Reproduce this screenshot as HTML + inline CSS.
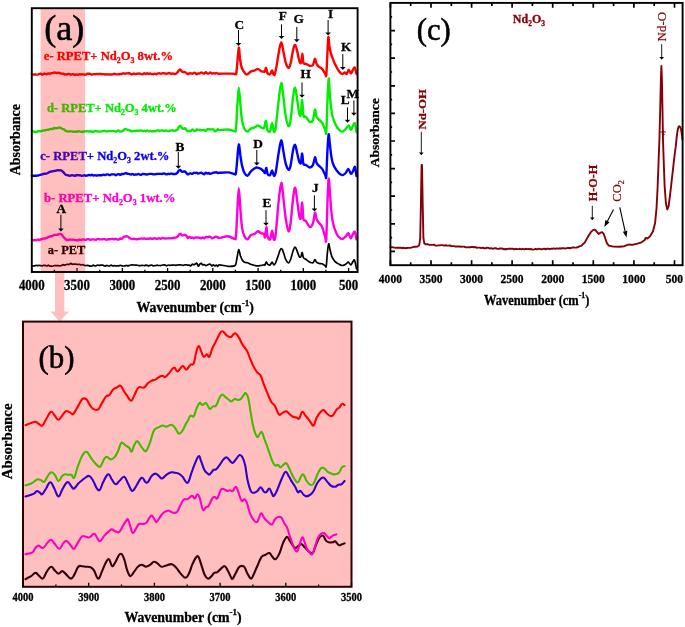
<!DOCTYPE html>
<html lang="en"><head><meta charset="utf-8"><title>FTIR spectra</title>
<style>
html,body{margin:0;padding:0;background:#fff;}
svg{display:block;font-family:"Liberation Serif","DejaVu Serif",serif;}
</style></head>
<body>
<svg width="685" height="627" viewBox="0 0 685 627">
<rect width="685" height="627" fill="#fff"/>
<path d="M55,272 L64.3,272 L64.3,311.5 L68.9,311.5 L59.7,321.5 L50.5,311.5 L55,311.5 Z" fill="#ffbfbf"/>
<path d="M31.8,266.1C32.0,266.1 32.8,266.0 33.3,266.0C33.8,265.9 34.3,265.9 34.8,265.8C35.3,265.7 35.8,265.3 36.3,265.3C36.8,265.2 37.3,265.6 37.8,265.6C38.3,265.6 38.8,265.3 39.3,265.3C39.8,265.3 40.3,265.6 40.8,265.7C41.3,265.8 41.8,265.8 42.3,265.8C42.8,265.7 43.3,265.4 43.8,265.3C44.3,265.3 44.8,265.3 45.3,265.4C45.8,265.5 46.3,266.1 46.8,266.0C47.3,266.0 47.8,265.1 48.3,265.1C48.8,265.1 49.3,265.9 49.8,266.0C50.3,266.2 50.8,266.1 51.3,266.1C51.8,266.1 52.3,266.3 52.8,266.2C53.3,266.1 53.8,265.6 54.3,265.5C54.8,265.4 55.3,265.6 55.8,265.6C56.3,265.7 56.8,265.6 57.3,265.6C57.8,265.6 58.3,265.6 58.8,265.6C59.3,265.7 59.8,265.9 60.3,265.9C60.8,265.9 61.3,265.6 61.8,265.4C62.3,265.2 62.8,264.8 63.3,264.7C63.8,264.7 64.3,265.2 64.8,265.2C65.3,265.1 65.8,264.6 66.3,264.5C66.8,264.3 67.3,264.4 67.8,264.4C68.3,264.4 68.8,264.5 69.3,264.3C69.8,264.2 70.3,263.4 70.8,263.3C71.3,263.3 71.8,264.1 72.3,264.2C72.8,264.4 73.3,264.2 73.8,264.2C74.3,264.2 74.8,264.1 75.3,264.1C75.8,264.1 76.3,264.3 76.8,264.4C77.3,264.4 77.8,264.5 78.3,264.5C78.8,264.5 79.3,264.3 79.8,264.4C80.3,264.5 80.8,265.0 81.3,265.0C81.8,265.1 82.3,264.6 82.8,264.6C83.3,264.7 83.8,265.2 84.3,265.3C84.8,265.5 85.3,265.6 85.8,265.6C86.3,265.6 86.8,265.4 87.3,265.4C87.8,265.4 88.3,265.5 88.8,265.6C89.3,265.7 89.8,266.0 90.3,266.1C90.8,266.2 91.3,266.2 91.8,266.0C92.3,265.9 92.8,265.1 93.3,265.1C93.8,265.1 94.3,265.8 94.8,265.9C95.3,266.0 95.8,265.9 96.3,265.7C96.8,265.6 97.3,265.1 97.8,265.0C98.3,265.0 98.8,265.4 99.3,265.4C99.8,265.4 100.3,265.3 100.8,265.2C101.3,265.2 101.8,265.0 102.3,265.0C102.8,265.1 103.3,265.4 103.8,265.6C104.3,265.8 104.8,266.1 105.3,266.1C105.8,266.0 106.3,265.3 106.8,265.3C107.3,265.3 107.8,265.9 108.3,266.0C108.8,266.1 109.3,265.9 109.8,265.8C110.3,265.6 110.8,265.1 111.3,265.1C111.8,265.1 112.3,265.9 112.8,266.0C113.3,266.1 113.8,265.6 114.3,265.6C114.8,265.7 115.3,266.0 115.8,266.0C116.3,266.1 116.8,265.8 117.3,265.8C117.8,265.7 118.3,265.9 118.8,265.8C119.3,265.7 119.8,265.3 120.3,265.3C120.8,265.3 121.3,265.8 121.8,265.9C122.3,266.0 122.8,266.0 123.3,266.0C123.8,266.0 124.3,266.0 124.8,265.9C125.3,265.8 125.8,265.4 126.3,265.4C126.8,265.4 127.3,265.8 127.8,265.8C128.3,265.8 128.8,265.6 129.3,265.5C129.8,265.3 130.3,265.1 130.8,265.0C131.3,264.9 131.8,264.9 132.3,264.9C132.8,264.9 133.3,264.9 133.8,265.0C134.3,265.0 134.8,265.1 135.3,265.1C135.8,265.1 136.3,265.0 136.8,265.1C137.3,265.1 137.8,265.4 138.3,265.5C138.8,265.6 139.3,265.7 139.8,265.7C140.3,265.7 140.8,265.6 141.3,265.5C141.8,265.5 142.3,265.3 142.8,265.4C143.3,265.4 143.8,265.7 144.3,265.6C144.8,265.6 145.3,265.3 145.8,265.2C146.3,265.2 146.8,265.3 147.3,265.4C147.8,265.5 148.3,265.8 148.8,265.8C149.3,265.7 149.8,265.4 150.3,265.3C150.8,265.2 151.3,265.0 151.8,265.1C152.3,265.2 152.8,265.8 153.3,265.9C153.8,266.0 154.3,265.8 154.8,265.7C155.3,265.6 155.8,265.3 156.3,265.3C156.8,265.2 157.3,265.2 157.8,265.3C158.3,265.3 158.8,265.4 159.3,265.5C159.8,265.5 160.3,265.6 160.8,265.5C161.3,265.5 161.8,265.2 162.3,265.1C162.8,265.0 163.3,264.8 163.8,264.8C164.3,264.8 164.8,264.9 165.3,265.1C165.8,265.2 166.3,265.8 166.8,265.8C167.3,265.7 167.8,265.0 168.3,265.0C168.8,264.9 169.3,265.3 169.8,265.4C170.3,265.4 170.8,265.1 171.3,265.0C171.8,265.0 172.3,265.1 172.8,265.1C173.3,265.0 173.8,265.0 174.3,265.0C174.8,265.0 175.3,265.3 175.8,265.3C176.3,265.3 176.8,265.1 177.3,265.0C177.8,264.9 178.3,264.8 178.8,264.8C179.3,264.8 179.8,264.9 180.3,264.9C180.8,264.9 181.3,264.9 181.8,265.0C182.3,265.1 182.8,265.4 183.3,265.4C183.8,265.3 184.3,264.9 184.8,264.8C185.3,264.8 185.8,264.7 186.3,264.8C186.8,264.9 187.3,265.2 187.8,265.2C188.3,265.3 188.8,265.0 189.3,265.1C189.8,265.2 190.3,266.0 190.8,265.8C191.3,265.7 191.8,264.4 192.3,264.2C192.8,264.1 193.3,264.8 193.8,264.8C194.3,264.7 194.8,264.3 195.3,264.0C195.8,263.8 196.3,262.8 196.8,263.2C197.3,263.5 197.8,266.0 198.3,266.1C198.8,266.3 199.3,264.6 199.8,264.1C200.3,263.7 200.8,263.2 201.3,263.4C201.8,263.6 202.3,264.9 202.8,265.0C203.3,265.2 203.8,264.4 204.3,264.5C204.8,264.6 205.3,265.6 205.8,265.6C206.3,265.7 206.8,265.2 207.3,265.0C207.8,264.8 208.3,264.5 208.8,264.4C209.3,264.3 209.8,264.0 210.3,264.2C210.8,264.5 211.3,265.8 211.8,265.9C212.3,266.0 212.8,264.8 213.3,264.8C213.8,264.8 214.3,265.9 214.8,266.0C215.3,266.1 215.8,265.2 216.3,265.2C216.8,265.3 217.3,266.4 217.8,266.3C218.3,266.3 217.6,264.8 219.3,264.8C221.0,264.8 225.7,266.1 228.2,266.3C230.7,266.5 233.0,266.3 234.3,265.9C235.6,265.5 235.4,265.5 235.9,263.8C236.5,262.1 236.9,258.0 237.4,255.7C237.8,253.3 238.3,249.5 238.8,249.5C239.3,249.5 239.9,254.0 240.4,255.7C241.0,257.4 241.4,258.7 242.1,259.7C242.8,260.8 243.6,261.7 244.5,262.2C245.4,262.7 246.6,262.5 247.6,262.8C248.6,263.1 249.5,263.8 250.7,264.2C251.8,264.7 253.6,265.2 254.7,265.5C255.9,265.7 256.8,265.9 257.8,265.9C258.8,265.9 259.9,265.6 260.9,265.5C261.9,265.3 263.3,265.0 263.9,264.9C264.6,264.8 264.6,265.4 265.0,264.9C265.4,264.3 265.9,261.9 266.4,261.8C266.8,261.7 267.0,263.7 267.6,264.2C268.2,264.8 269.3,265.2 270.1,264.9C270.8,264.5 271.5,262.2 272.1,262.2C272.7,262.2 273.2,264.8 273.8,264.9C274.3,265.0 274.8,264.3 275.6,262.8C276.3,261.3 277.5,257.7 278.2,255.7C279.0,253.6 279.4,251.7 279.9,250.5C280.4,249.4 280.9,248.6 281.3,248.5C281.8,248.4 282.1,249.1 282.5,249.9C282.9,250.8 283.2,252.0 283.8,253.6C284.3,255.2 285.0,258.2 285.8,259.7C286.6,261.3 287.7,262.8 288.5,262.8C289.2,262.8 289.7,261.8 290.5,259.7C291.3,257.7 292.4,252.7 293.2,250.5C293.9,248.4 294.5,246.9 295.2,247.1C295.9,247.2 296.6,250.0 297.3,251.6C297.9,253.2 298.7,255.8 299.3,256.7C299.9,257.5 300.5,257.4 300.9,256.7C301.4,256.0 301.7,252.4 302.2,252.6C302.6,252.8 302.8,256.6 303.4,257.7C304.0,258.8 304.7,258.6 305.8,259.3C306.9,260.1 308.7,261.6 309.9,262.2C311.1,262.8 312.1,263.2 313.0,262.8C313.8,262.4 314.5,259.8 315.0,259.7C315.6,259.6 315.8,261.6 316.5,262.2C317.1,262.8 318.2,263.1 319.1,263.4C320.1,263.7 321.2,263.4 322.2,263.8C323.2,264.2 324.6,265.5 325.3,265.9C325.9,266.2 325.9,268.3 326.3,265.9C326.6,263.5 327.1,255.2 327.5,251.6C327.9,247.9 328.3,244.1 328.7,243.8C329.1,243.5 329.5,247.7 330.0,249.5C330.4,251.3 330.8,253.3 331.2,254.6C331.6,256.0 331.9,256.7 332.4,257.7C333.0,258.7 333.6,259.8 334.4,260.8C335.3,261.7 336.5,262.7 337.5,263.4C338.5,264.1 339.7,264.5 340.6,264.9C341.4,265.2 341.8,265.6 342.6,265.5C343.5,265.4 344.7,264.8 345.7,264.2C346.6,263.7 347.5,262.1 348.3,262.2C349.2,262.3 350.0,264.9 350.8,264.9C351.5,264.8 352.2,262.6 352.8,261.8C353.5,261.0 353.9,259.0 354.5,260.2C355.1,261.3 356.2,267.5 356.5,268.9" fill="none" stroke="#000000" stroke-width="1.7" stroke-linejoin="round" stroke-linecap="round"/>
<path d="M31.8,240.1C32.0,240.1 32.8,240.2 33.3,240.2C33.8,240.2 34.3,240.0 34.8,240.0C35.3,240.0 35.8,240.4 36.3,240.3C36.8,240.2 37.3,239.5 37.8,239.5C38.3,239.4 38.8,240.1 39.3,240.1C39.8,240.0 40.3,239.4 40.8,239.3C41.3,239.1 41.8,239.2 42.3,239.0C42.8,238.9 43.3,238.6 43.8,238.5C44.3,238.4 44.8,238.5 45.3,238.4C45.8,238.3 46.3,238.1 46.8,237.9C47.3,237.7 47.8,237.3 48.3,237.1C48.8,236.9 49.3,236.6 49.8,236.5C50.3,236.3 50.8,236.3 51.3,236.2C51.8,236.1 52.3,236.0 52.8,235.8C53.3,235.6 53.8,235.1 54.3,234.9C54.8,234.8 55.3,234.9 55.8,234.9C56.3,234.9 56.8,234.9 57.3,234.8C57.8,234.7 58.3,234.3 58.8,234.1C59.3,234.0 59.8,233.8 60.3,233.9C60.8,234.0 61.3,234.2 61.8,234.7C62.3,235.2 62.8,236.2 63.3,236.8C63.8,237.4 64.3,237.8 64.8,238.3C65.3,238.8 65.8,239.3 66.3,239.6C66.8,239.9 67.3,240.0 67.8,240.0C68.3,240.0 68.8,239.7 69.3,239.6C69.8,239.5 70.3,239.6 70.8,239.6C71.3,239.6 71.8,239.7 72.3,239.7C72.8,239.7 73.3,239.5 73.8,239.6C74.3,239.6 74.8,240.0 75.3,240.1C75.8,240.2 76.3,240.2 76.8,240.2C77.3,240.2 77.8,240.3 78.3,240.2C78.8,240.1 79.3,239.6 79.8,239.5C80.3,239.5 80.8,240.1 81.3,240.1C81.8,240.1 82.3,239.6 82.8,239.5C83.3,239.5 83.8,239.6 84.3,239.6C84.8,239.7 85.3,240.0 85.8,239.9C86.3,239.8 86.8,239.4 87.3,239.2C87.8,239.1 88.3,239.1 88.8,239.2C89.3,239.3 89.8,239.9 90.3,239.9C90.8,240.0 91.3,239.5 91.8,239.4C92.3,239.3 92.8,239.4 93.3,239.4C93.8,239.5 94.3,239.6 94.8,239.6C95.3,239.7 95.8,239.8 96.3,239.7C96.8,239.6 97.3,239.0 97.8,239.0C98.3,238.9 98.8,239.2 99.3,239.3C99.8,239.4 100.3,239.3 100.8,239.4C101.3,239.4 101.8,239.4 102.3,239.4C102.8,239.3 103.3,239.1 103.8,239.1C104.3,239.1 104.8,239.3 105.3,239.4C105.8,239.6 106.3,239.8 106.8,239.8C107.3,239.7 107.8,239.3 108.3,239.2C108.8,239.1 109.3,239.4 109.8,239.3C110.3,239.3 110.8,238.9 111.3,238.9C111.8,238.8 112.3,238.9 112.8,239.0C113.3,239.1 113.8,239.4 114.3,239.4C114.8,239.3 115.3,238.8 115.8,238.8C116.3,238.8 116.8,239.4 117.3,239.5C117.8,239.6 118.3,239.7 118.8,239.5C119.3,239.3 119.8,238.6 120.3,238.5C120.8,238.4 121.3,239.0 121.8,238.8C122.3,238.6 122.8,237.6 123.3,237.3C123.8,236.9 124.3,236.8 124.8,236.6C125.3,236.5 125.8,236.3 126.3,236.3C126.8,236.2 127.3,236.2 127.8,236.5C128.3,236.7 128.8,237.5 129.3,237.9C129.8,238.2 130.3,238.4 130.8,238.6C131.3,238.8 131.8,239.1 132.3,239.1C132.8,239.1 133.3,238.6 133.8,238.6C134.3,238.6 134.8,239.0 135.3,239.1C135.8,239.2 136.3,239.3 136.8,239.3C137.3,239.3 137.8,239.0 138.3,239.0C138.8,238.9 139.3,238.9 139.8,238.8C140.3,238.7 140.8,238.4 141.3,238.4C141.8,238.3 142.3,238.7 142.8,238.7C143.3,238.7 143.8,238.5 144.3,238.5C144.8,238.6 145.3,238.8 145.8,238.9C146.3,238.9 146.8,238.8 147.3,238.8C147.8,238.8 148.3,238.8 148.8,238.7C149.3,238.6 149.8,238.3 150.3,238.3C150.8,238.3 151.3,238.6 151.8,238.7C152.3,238.8 152.8,238.8 153.3,238.7C153.8,238.6 154.3,238.2 154.8,238.2C155.3,238.2 155.8,238.8 156.3,238.9C156.8,238.9 157.3,238.7 157.8,238.6C158.3,238.5 158.8,238.0 159.3,238.1C159.8,238.1 160.3,238.8 160.8,238.8C161.3,238.8 161.8,238.1 162.3,238.0C162.8,237.9 163.3,238.1 163.8,238.2C164.3,238.3 164.8,238.5 165.3,238.6C165.8,238.6 166.3,238.4 166.8,238.4C167.3,238.4 167.8,238.3 168.3,238.3C168.8,238.3 169.3,238.4 169.8,238.4C170.3,238.4 170.8,238.3 171.3,238.2C171.8,238.1 172.3,238.1 172.8,238.0C173.3,238.0 173.8,237.9 174.3,237.8C174.8,237.7 175.3,237.6 175.8,237.5C176.3,237.3 176.8,237.4 177.3,236.9C177.8,236.5 178.3,235.3 178.8,234.8C179.3,234.2 179.8,233.6 180.3,233.7C180.8,233.7 181.3,234.9 181.8,235.2C182.3,235.5 182.8,235.5 183.3,235.4C183.8,235.3 184.3,234.6 184.8,234.7C185.3,234.7 185.8,235.2 186.3,235.7C186.8,236.3 187.3,237.9 187.8,238.1C188.3,238.3 188.8,237.0 189.3,236.9C189.8,236.9 190.3,237.8 190.8,237.9C191.3,238.0 191.8,237.3 192.3,237.4C192.8,237.4 193.3,238.4 193.8,238.4C194.3,238.4 194.8,237.7 195.3,237.5C195.8,237.4 196.3,237.5 196.8,237.5C197.3,237.5 197.8,237.5 198.3,237.6C198.8,237.6 199.3,237.7 199.8,237.8C200.3,237.9 200.8,238.3 201.3,238.3C201.8,238.2 202.3,237.4 202.8,237.4C203.3,237.4 203.8,238.4 204.3,238.4C204.8,238.3 205.3,237.1 205.8,236.9C206.3,236.7 206.8,237.2 207.3,237.2C207.8,237.1 208.3,236.9 208.8,236.8C209.3,236.7 209.8,236.6 210.3,236.8C210.8,237.0 211.3,237.9 211.8,238.1C212.3,238.3 212.8,238.2 213.3,238.0C213.8,237.8 214.3,237.0 214.8,236.9C215.3,236.7 215.8,236.8 216.3,236.8C216.8,236.9 217.3,237.1 217.8,237.3C218.3,237.4 217.6,238.1 219.3,237.9C221.0,237.7 225.7,236.2 228.2,236.3C230.7,236.5 233.0,238.8 234.3,238.8C235.6,238.8 235.4,241.1 235.9,236.3C236.5,231.5 236.9,217.7 237.4,209.7C237.8,201.7 238.3,188.3 238.8,188.3C239.3,188.3 239.9,203.1 240.4,209.7C241.0,216.4 241.4,223.7 242.1,228.1C242.8,232.6 243.6,234.4 244.5,236.3C245.4,238.2 246.6,239.5 247.6,239.4C248.6,239.2 249.5,236.2 250.7,235.3C251.8,234.4 253.6,234.5 254.7,233.9C255.9,233.2 256.8,231.3 257.8,231.2C258.8,231.1 259.9,232.8 260.9,233.2C261.9,233.7 263.3,233.2 263.9,233.9C264.6,234.5 264.6,238.5 265.0,237.3C265.4,236.2 265.9,227.3 266.4,227.1C266.8,226.9 267.0,234.3 267.6,236.3C268.2,238.4 269.3,240.3 270.1,239.4C270.8,238.4 271.5,230.6 272.1,230.6C272.7,230.6 273.2,238.6 273.8,239.4C274.3,240.2 274.8,240.9 275.6,235.3C276.3,229.7 277.5,213.1 278.2,205.7C279.0,198.2 279.4,194.1 279.9,190.3C280.4,186.5 280.9,182.9 281.3,182.8C281.8,182.6 282.1,186.2 282.5,189.3C282.9,192.4 283.2,196.6 283.8,201.6C284.3,206.5 285.0,214.0 285.8,218.9C286.6,223.9 287.7,230.4 288.5,231.2C289.2,232.1 289.7,229.7 290.5,224.0C291.3,218.4 292.4,203.5 293.2,197.5C293.9,191.4 294.5,187.0 295.2,187.7C295.9,188.4 296.6,196.9 297.3,201.6C297.9,206.3 298.7,213.1 299.3,215.9C299.9,218.6 300.5,220.1 300.9,217.9C301.4,215.7 301.7,202.4 302.2,202.6C302.6,202.8 302.8,215.9 303.4,218.9C304.0,222.0 304.7,219.6 305.8,221.0C306.9,222.3 308.7,226.8 309.9,227.1C311.1,227.5 312.1,225.4 313.0,223.0C313.8,220.6 314.5,213.5 315.0,212.8C315.6,212.1 315.8,217.2 316.5,218.9C317.1,220.6 318.2,221.7 319.1,223.0C320.1,224.4 321.2,224.7 322.2,227.1C323.2,229.5 324.6,235.3 325.3,237.3C325.9,239.4 325.9,245.3 326.3,239.4C326.6,233.4 327.1,211.7 327.5,201.6C327.9,191.5 328.3,180.0 328.7,178.7C329.1,177.3 329.5,188.2 330.0,193.4C330.4,198.6 330.8,205.3 331.2,209.7C331.6,214.2 331.9,216.9 332.4,220.0C333.0,223.0 333.6,225.6 334.4,228.1C335.3,230.7 336.5,233.6 337.5,235.3C338.5,237.0 339.7,237.8 340.6,238.4C341.4,238.9 341.8,239.1 342.6,238.8C343.5,238.4 344.7,237.2 345.7,236.3C346.6,235.4 347.5,232.9 348.3,233.2C349.2,233.6 350.0,238.2 350.8,238.4C351.5,238.5 352.2,235.4 352.8,234.3C353.5,233.2 354.3,231.0 354.9,231.8C355.5,232.7 356.2,238.1 356.5,239.4" fill="none" stroke="#ff00dc" stroke-width="2.4" stroke-linejoin="round" stroke-linecap="round"/>
<path d="M31.8,175.8C32.0,175.8 32.8,175.8 33.3,175.7C33.8,175.7 34.3,175.7 34.8,175.7C35.3,175.7 35.8,175.8 36.3,175.8C36.8,175.8 37.3,175.7 37.8,175.5C38.3,175.4 38.8,175.2 39.3,175.1C39.8,174.9 40.3,174.7 40.8,174.6C41.3,174.5 41.8,174.6 42.3,174.4C42.8,174.3 43.3,173.9 43.8,173.8C44.3,173.7 44.8,173.9 45.3,173.8C45.8,173.8 46.3,173.7 46.8,173.5C47.3,173.3 47.8,173.0 48.3,172.7C48.8,172.4 49.3,172.1 49.8,171.9C50.3,171.7 50.8,171.6 51.3,171.5C51.8,171.4 52.3,171.3 52.8,171.2C53.3,171.1 53.8,171.1 54.3,171.0C54.8,170.9 55.3,170.9 55.8,170.8C56.3,170.7 56.8,170.2 57.3,170.1C57.8,170.1 58.3,170.4 58.8,170.4C59.3,170.4 59.8,170.1 60.3,170.2C60.8,170.2 61.3,170.4 61.8,170.8C62.3,171.1 62.8,171.7 63.3,172.2C63.8,172.7 64.3,173.3 64.8,173.8C65.3,174.3 65.8,174.8 66.3,175.0C66.8,175.2 67.3,175.1 67.8,175.2C68.3,175.3 68.8,175.6 69.3,175.7C69.8,175.7 70.3,175.6 70.8,175.5C71.3,175.4 71.8,175.2 72.3,175.3C72.8,175.3 73.3,175.5 73.8,175.5C74.3,175.6 74.8,175.7 75.3,175.7C75.8,175.6 76.3,175.1 76.8,175.0C77.3,175.0 77.8,175.3 78.3,175.3C78.8,175.4 79.3,175.2 79.8,175.3C80.3,175.4 80.8,175.7 81.3,175.7C81.8,175.8 82.3,175.9 82.8,175.8C83.3,175.7 83.8,175.2 84.3,175.2C84.8,175.2 85.3,175.6 85.8,175.7C86.3,175.7 86.8,175.7 87.3,175.5C87.8,175.4 88.3,175.1 88.8,175.0C89.3,174.9 89.8,175.2 90.3,175.2C90.8,175.1 91.3,174.8 91.8,174.8C92.3,174.9 92.8,175.4 93.3,175.5C93.8,175.5 94.3,175.3 94.8,175.3C95.3,175.3 95.8,175.5 96.3,175.5C96.8,175.5 97.3,175.4 97.8,175.4C98.3,175.3 98.8,175.2 99.3,175.2C99.8,175.2 100.3,175.3 100.8,175.3C101.3,175.2 101.8,175.2 102.3,175.1C102.8,175.0 103.3,174.6 103.8,174.6C104.3,174.6 104.8,175.1 105.3,175.0C105.8,175.0 106.3,174.5 106.8,174.4C107.3,174.3 107.8,174.4 108.3,174.5C108.8,174.7 109.3,175.2 109.8,175.1C110.3,175.1 110.8,174.5 111.3,174.4C111.8,174.3 112.3,174.4 112.8,174.4C113.3,174.4 113.8,174.3 114.3,174.4C114.8,174.5 115.3,175.1 115.8,175.2C116.3,175.2 116.8,174.6 117.3,174.4C117.8,174.3 118.3,174.1 118.8,174.2C119.3,174.3 119.8,175.0 120.3,174.9C120.8,174.9 121.3,174.0 121.8,173.9C122.3,173.8 122.8,174.2 123.3,174.1C123.8,174.0 124.3,173.5 124.8,173.4C125.3,173.2 125.8,173.3 126.3,173.3C126.8,173.4 127.3,173.7 127.8,173.8C128.3,173.9 128.8,173.8 129.3,174.0C129.8,174.1 130.3,174.6 130.8,174.6C131.3,174.6 131.8,173.9 132.3,174.0C132.8,174.0 133.3,174.6 133.8,174.7C134.3,174.8 134.8,174.5 135.3,174.5C135.8,174.4 136.3,174.7 136.8,174.6C137.3,174.6 137.8,174.0 138.3,174.0C138.8,174.0 139.3,174.5 139.8,174.6C140.3,174.7 140.8,174.9 141.3,174.8C141.8,174.6 142.3,174.0 142.8,173.9C143.3,173.8 143.8,174.0 144.3,174.1C144.8,174.2 145.3,174.3 145.8,174.3C146.3,174.4 146.8,174.6 147.3,174.6C147.8,174.5 148.3,174.1 148.8,174.0C149.3,173.8 149.8,173.9 150.3,173.9C150.8,173.9 151.3,173.8 151.8,173.9C152.3,174.0 152.8,174.2 153.3,174.3C153.8,174.3 154.3,174.4 154.8,174.4C155.3,174.3 155.8,174.0 156.3,174.0C156.8,173.9 157.3,173.9 157.8,173.9C158.3,173.9 158.8,173.9 159.3,173.9C159.8,173.9 160.3,173.9 160.8,173.9C161.3,173.9 161.8,174.0 162.3,173.9C162.8,173.8 163.3,173.5 163.8,173.5C164.3,173.5 164.8,173.8 165.3,173.9C165.8,174.1 166.3,174.4 166.8,174.4C167.3,174.4 167.8,173.8 168.3,173.8C168.8,173.7 169.3,174.2 169.8,174.1C170.3,174.1 170.8,173.5 171.3,173.5C171.8,173.5 172.3,173.9 172.8,174.0C173.3,174.1 173.8,174.1 174.3,174.0C174.8,174.0 175.3,174.0 175.8,173.8C176.3,173.6 176.8,173.4 177.3,172.9C177.8,172.3 178.3,171.2 178.8,170.7C179.3,170.2 179.8,169.7 180.3,169.9C180.8,170.0 181.3,171.4 181.8,171.7C182.3,172.0 182.8,171.6 183.3,171.6C183.8,171.5 184.3,171.2 184.8,171.4C185.3,171.6 185.8,172.5 186.3,173.0C186.8,173.5 187.3,174.2 187.8,174.3C188.3,174.4 188.8,173.7 189.3,173.6C189.8,173.4 190.3,173.3 190.8,173.4C191.3,173.4 191.8,174.0 192.3,173.9C192.8,173.8 193.3,173.0 193.8,172.8C194.3,172.7 194.8,173.0 195.3,173.0C195.8,173.0 196.3,172.7 196.8,172.8C197.3,172.9 197.8,173.5 198.3,173.5C198.8,173.6 199.3,173.1 199.8,173.0C200.3,172.8 200.8,172.7 201.3,172.8C201.8,172.9 202.3,173.4 202.8,173.7C203.3,173.9 203.8,174.3 204.3,174.2C204.8,174.0 205.3,172.9 205.8,172.8C206.3,172.7 206.8,173.6 207.3,173.6C207.8,173.7 208.3,173.0 208.8,173.0C209.3,173.1 209.8,173.8 210.3,173.9C210.8,173.9 211.3,173.5 211.8,173.3C212.3,173.1 212.8,172.8 213.3,172.6C213.8,172.5 214.3,172.6 214.8,172.5C215.3,172.4 215.8,172.0 216.3,172.1C216.8,172.2 217.3,172.9 217.8,173.0C218.3,173.1 217.6,172.9 219.3,172.8C221.0,172.7 225.7,172.2 228.2,172.4C230.7,172.6 233.0,173.9 234.3,174.0C235.6,174.2 235.4,175.8 235.9,173.0C236.5,170.3 236.9,162.5 237.4,157.7C237.8,152.9 238.3,144.8 238.8,144.4C239.3,144.1 239.9,152.1 240.4,155.7C241.0,159.2 241.4,163.0 242.1,165.9C242.8,168.8 243.6,171.4 244.5,173.0C245.4,174.7 246.6,175.9 247.6,175.7C248.6,175.4 249.6,172.7 250.7,171.6C251.7,170.5 252.7,169.6 253.7,168.9C254.7,168.3 255.6,167.5 256.8,167.5C258.0,167.5 259.7,168.3 260.9,168.9C262.1,169.6 263.3,170.9 263.9,171.6C264.6,172.3 264.6,173.6 265.0,173.0C265.4,172.4 265.9,167.7 266.4,167.9C266.8,168.1 267.0,172.9 267.6,174.0C268.2,175.2 269.3,175.7 270.1,175.1C270.8,174.5 271.5,170.3 272.1,170.4C272.7,170.5 273.2,175.2 273.8,175.7C274.3,176.1 274.8,176.4 275.6,173.0C276.3,169.7 277.5,160.3 278.2,155.7C279.0,151.1 279.4,148.0 279.9,145.4C280.4,142.9 280.9,140.3 281.3,140.3C281.8,140.3 282.1,143.2 282.5,145.4C282.9,147.7 283.2,150.5 283.8,153.6C284.3,156.7 285.0,161.2 285.8,163.8C286.6,166.5 287.7,169.2 288.5,169.6C289.2,169.9 289.7,169.2 290.5,165.9C291.3,162.5 292.4,153.0 293.2,149.5C293.9,146.1 294.5,144.3 295.2,145.0C295.9,145.7 296.6,150.8 297.3,153.6C297.9,156.4 298.7,160.3 299.3,161.8C299.9,163.3 300.5,164.2 300.9,162.8C301.4,161.4 301.7,153.4 302.2,153.6C302.6,153.8 302.8,162.0 303.4,163.8C304.0,165.7 304.7,164.2 305.8,164.9C306.9,165.5 308.7,167.5 309.9,167.5C311.1,167.5 312.1,166.6 313.0,164.9C313.8,163.1 314.5,157.6 315.0,157.3C315.6,157.0 315.8,161.4 316.5,162.8C317.1,164.2 318.2,164.9 319.1,165.9C320.1,166.9 321.2,167.4 322.2,168.9C323.2,170.5 324.6,173.9 325.3,175.1C325.9,176.3 325.9,180.4 326.3,176.1C326.6,171.8 327.1,156.5 327.5,149.5C327.9,142.5 328.3,134.9 328.7,134.2C329.1,133.5 329.5,141.9 330.0,145.4C330.4,149.0 330.8,152.9 331.2,155.7C331.6,158.4 331.9,159.9 332.4,161.8C333.0,163.7 333.6,165.3 334.4,166.9C335.3,168.5 336.5,170.3 337.5,171.6C338.5,172.9 339.7,173.9 340.6,174.5C341.4,175.0 341.8,175.3 342.6,175.1C343.5,174.8 344.7,174.0 345.7,173.0C346.6,172.0 347.5,168.8 348.3,168.9C349.2,169.0 350.0,173.2 350.8,173.6C351.5,174.1 352.2,172.7 352.8,171.6C353.5,170.5 354.3,166.1 354.9,166.9C355.5,167.6 356.2,174.6 356.5,176.1" fill="none" stroke="#0000ff" stroke-width="2.4" stroke-linejoin="round" stroke-linecap="round"/>
<path d="M31.8,131.4C32.0,131.4 32.8,131.3 33.3,131.4C33.8,131.5 34.3,131.8 34.8,131.9C35.3,132.0 35.8,132.2 36.3,132.1C36.8,132.0 37.3,131.4 37.8,131.3C38.3,131.1 38.8,131.3 39.3,131.3C39.8,131.3 40.3,131.3 40.8,131.2C41.3,131.2 41.8,130.9 42.3,130.7C42.8,130.6 43.3,130.6 43.8,130.5C44.3,130.4 44.8,130.3 45.3,130.2C45.8,130.1 46.3,130.0 46.8,129.9C47.3,129.9 47.8,129.9 48.3,129.8C48.8,129.7 49.3,129.3 49.8,129.2C50.3,129.0 50.8,128.9 51.3,128.9C51.8,128.9 52.3,129.1 52.8,129.0C53.3,128.8 53.8,128.0 54.3,127.9C54.8,127.8 55.3,128.2 55.8,128.2C56.3,128.3 56.8,128.3 57.3,128.2C57.8,128.1 58.3,127.8 58.8,127.7C59.3,127.6 59.8,127.4 60.3,127.6C60.8,127.7 61.3,128.4 61.8,128.7C62.3,128.9 62.8,128.9 63.3,129.1C63.8,129.4 64.3,129.8 64.8,130.1C65.3,130.4 65.8,130.8 66.3,131.0C66.8,131.3 67.3,131.6 67.8,131.6C68.3,131.7 68.8,131.2 69.3,131.2C69.8,131.1 70.3,131.4 70.8,131.4C71.3,131.5 71.8,131.3 72.3,131.4C72.8,131.5 73.3,131.9 73.8,131.9C74.3,131.9 74.8,131.5 75.3,131.5C75.8,131.5 76.3,132.0 76.8,131.9C77.3,131.9 77.8,131.3 78.3,131.2C78.8,131.1 79.3,131.3 79.8,131.4C80.3,131.4 80.8,131.6 81.3,131.7C81.8,131.7 82.3,131.9 82.8,131.9C83.3,131.8 83.8,131.5 84.3,131.4C84.8,131.3 85.3,131.2 85.8,131.2C86.3,131.1 86.8,131.0 87.3,131.1C87.8,131.1 88.3,131.4 88.8,131.5C89.3,131.5 89.8,131.1 90.3,131.1C90.8,131.1 91.3,131.6 91.8,131.7C92.3,131.8 92.8,131.8 93.3,131.7C93.8,131.6 94.3,131.1 94.8,131.0C95.3,130.9 95.8,131.0 96.3,131.1C96.8,131.2 97.3,131.6 97.8,131.6C98.3,131.7 98.8,131.5 99.3,131.5C99.8,131.5 100.3,131.7 100.8,131.6C101.3,131.6 101.8,131.3 102.3,131.1C102.8,131.0 103.3,130.9 103.8,130.9C104.3,130.9 104.8,130.9 105.3,131.0C105.8,131.2 106.3,131.5 106.8,131.5C107.3,131.5 107.8,131.1 108.3,131.0C108.8,130.9 109.3,131.0 109.8,131.1C110.3,131.1 110.8,131.1 111.3,131.1C111.8,131.1 112.3,131.1 112.8,131.1C113.3,131.1 113.8,131.0 114.3,131.1C114.8,131.2 115.3,131.6 115.8,131.6C116.3,131.5 116.8,131.0 117.3,130.8C117.8,130.6 118.3,130.5 118.8,130.6C119.3,130.7 119.8,131.4 120.3,131.5C120.8,131.6 121.3,131.3 121.8,131.2C122.3,131.0 122.8,130.9 123.3,130.6C123.8,130.2 124.3,129.3 124.8,129.1C125.3,128.9 125.8,129.2 126.3,129.3C126.8,129.5 127.3,129.8 127.8,129.9C128.3,130.1 128.8,129.9 129.3,130.1C129.8,130.3 130.3,130.9 130.8,131.1C131.3,131.3 131.8,131.3 132.3,131.3C132.8,131.3 133.3,131.2 133.8,131.1C134.3,131.1 134.8,131.0 135.3,131.0C135.8,130.9 136.3,130.8 136.8,130.7C137.3,130.7 137.8,130.8 138.3,130.8C138.8,130.8 139.3,130.7 139.8,130.6C140.3,130.6 140.8,130.4 141.3,130.5C141.8,130.5 142.3,130.9 142.8,131.0C143.3,131.0 143.8,130.6 144.3,130.7C144.8,130.7 145.3,131.2 145.8,131.2C146.3,131.1 146.8,130.4 147.3,130.4C147.8,130.4 148.3,131.1 148.8,131.2C149.3,131.3 149.8,131.0 150.3,131.0C150.8,131.0 151.3,131.2 151.8,131.2C152.3,131.2 152.8,131.2 153.3,131.2C153.8,131.2 154.3,131.2 154.8,131.2C155.3,131.1 155.8,131.0 156.3,130.8C156.8,130.7 157.3,130.2 157.8,130.2C158.3,130.3 158.8,130.9 159.3,131.0C159.8,131.0 160.3,130.4 160.8,130.4C161.3,130.3 161.8,130.4 162.3,130.5C162.8,130.6 163.3,130.8 163.8,130.8C164.3,130.9 164.8,130.7 165.3,130.7C165.8,130.6 166.3,130.5 166.8,130.6C167.3,130.6 167.8,131.0 168.3,131.1C168.8,131.1 169.3,130.8 169.8,130.7C170.3,130.6 170.8,130.5 171.3,130.4C171.8,130.4 172.3,130.2 172.8,130.3C173.3,130.4 173.8,130.9 174.3,130.9C174.8,130.9 175.3,130.6 175.8,130.4C176.3,130.2 176.8,130.4 177.3,129.8C177.8,129.3 178.3,127.7 178.8,127.0C179.3,126.3 179.8,125.6 180.3,125.8C180.8,125.9 181.3,127.4 181.8,127.9C182.3,128.4 182.8,128.9 183.3,128.9C183.8,129.0 184.3,128.0 184.8,128.1C185.3,128.3 185.8,129.3 186.3,129.8C186.8,130.3 187.3,130.9 187.8,131.1C188.3,131.3 188.8,131.0 189.3,131.0C189.8,131.0 190.3,131.3 190.8,131.0C191.3,130.8 191.8,129.5 192.3,129.4C192.8,129.3 193.3,130.3 193.8,130.6C194.3,130.9 194.8,131.3 195.3,131.1C195.8,130.9 196.3,129.6 196.8,129.4C197.3,129.2 197.8,129.8 198.3,129.9C198.8,129.9 199.3,129.8 199.8,129.8C200.3,129.9 200.8,130.3 201.3,130.3C201.8,130.4 202.3,130.1 202.8,130.1C203.3,130.1 203.8,130.1 204.3,130.2C204.8,130.3 205.3,131.0 205.8,130.8C206.3,130.6 206.8,129.5 207.3,129.2C207.8,129.0 208.3,129.3 208.8,129.3C209.3,129.4 209.8,129.4 210.3,129.5C210.8,129.5 211.3,129.5 211.8,129.4C212.3,129.4 212.8,129.0 213.3,129.3C213.8,129.6 214.3,130.8 214.8,131.1C215.3,131.4 215.8,131.1 216.3,130.8C216.8,130.5 217.3,129.4 217.8,129.3C218.3,129.2 217.6,130.1 219.3,130.1C221.0,130.1 225.7,129.3 228.2,129.5C230.7,129.6 233.0,131.2 234.3,131.1C235.6,131.0 235.4,133.5 235.9,129.0C236.5,124.6 236.9,111.4 237.4,104.5C237.8,97.6 238.3,87.8 238.8,87.8C239.3,87.8 239.9,99.0 240.4,104.5C241.0,110.0 241.4,116.8 242.1,120.9C242.8,125.0 243.6,127.3 244.5,129.0C245.4,130.8 246.6,131.6 247.6,131.5C248.6,131.4 249.5,129.3 250.7,128.6C251.8,128.0 253.6,128.0 254.7,127.4C255.9,126.9 256.8,125.4 257.8,125.4C258.8,125.4 259.9,127.0 260.9,127.4C261.9,127.9 263.1,129.1 263.9,128.0C264.8,126.9 265.4,120.5 266.0,120.9C266.6,121.2 266.7,128.4 267.4,130.1C268.1,131.8 269.3,132.3 270.1,131.1C270.9,129.9 271.5,122.9 272.1,122.9C272.7,123.0 273.2,130.7 273.8,131.5C274.3,132.4 274.8,132.5 275.6,128.0C276.3,123.5 277.5,110.8 278.2,104.5C279.0,98.2 279.4,93.8 279.9,90.2C280.4,86.6 280.9,83.2 281.3,83.1C281.8,82.9 282.1,86.3 282.5,89.2C282.9,92.1 283.2,95.8 283.8,100.4C284.3,105.0 285.0,112.5 285.8,116.8C286.6,121.0 287.7,125.3 288.5,126.0C289.2,126.7 289.7,125.8 290.5,120.9C291.3,115.9 292.4,101.9 293.2,96.3C293.9,90.8 294.5,87.1 295.2,87.8C295.9,88.4 296.6,96.1 297.3,100.4C297.9,104.8 298.7,111.3 299.3,113.7C299.9,116.1 300.3,117.0 300.7,114.7C301.2,112.5 301.7,99.9 302.2,100.0C302.6,100.2 302.8,113.0 303.4,115.8C304.0,118.6 304.7,115.8 305.8,116.8C306.9,117.8 308.7,121.4 309.9,121.9C311.1,122.4 312.1,121.9 313.0,119.9C313.8,117.8 314.5,110.1 315.0,109.6C315.6,109.1 315.8,115.1 316.5,116.8C317.1,118.5 318.2,118.8 319.1,119.9C320.1,120.9 321.2,121.2 322.2,122.9C323.2,124.6 324.6,128.5 325.3,130.1C325.9,131.6 325.9,137.1 326.3,132.1C326.6,127.2 327.1,109.4 327.5,100.4C327.9,91.5 328.3,79.3 328.7,78.6C329.1,77.9 329.5,91.3 330.0,96.3C330.4,101.4 330.8,105.4 331.2,108.6C331.6,111.8 331.9,113.6 332.4,115.8C333.0,118.0 333.6,119.9 334.4,121.9C335.3,123.9 336.5,126.5 337.5,128.0C338.5,129.6 339.7,130.5 340.6,131.1C341.4,131.7 341.8,131.8 342.6,131.5C343.5,131.2 344.7,130.1 345.7,129.0C346.7,128.0 347.9,125.2 348.8,125.4C349.6,125.5 350.1,130.0 350.8,130.1C351.5,130.2 352.2,127.1 352.8,126.0C353.5,124.9 354.3,122.3 354.9,123.3C355.5,124.3 356.2,130.7 356.5,132.1" fill="none" stroke="#00ee00" stroke-width="2.4" stroke-linejoin="round" stroke-linecap="round"/>
<path d="M31.8,74.3C32.0,74.4 32.8,74.6 33.3,74.6C33.8,74.6 34.3,74.4 34.8,74.4C35.3,74.4 35.8,74.6 36.3,74.6C36.8,74.6 37.3,74.7 37.8,74.6C38.3,74.5 38.8,74.1 39.3,74.0C39.8,73.8 40.3,73.7 40.8,73.8C41.3,73.9 41.8,74.5 42.3,74.5C42.8,74.5 43.3,74.0 43.8,73.8C44.3,73.7 44.8,73.6 45.3,73.6C45.8,73.7 46.3,74.3 46.8,74.2C47.3,74.2 47.8,73.6 48.3,73.5C48.8,73.4 49.3,73.7 49.8,73.7C50.3,73.6 50.8,73.2 51.3,73.1C51.8,73.0 52.3,73.2 52.8,73.1C53.3,73.0 53.8,72.5 54.3,72.4C54.8,72.4 55.3,72.7 55.8,72.8C56.3,72.9 56.8,73.0 57.3,73.0C57.8,73.0 58.3,72.6 58.8,72.7C59.3,72.8 59.8,73.1 60.3,73.3C60.8,73.5 61.3,73.8 61.8,73.8C62.3,73.9 62.8,73.5 63.3,73.6C63.8,73.7 64.3,74.4 64.8,74.5C65.3,74.6 65.8,74.5 66.3,74.4C66.8,74.3 67.3,74.2 67.8,74.1C68.3,74.0 68.8,73.8 69.3,73.9C69.8,73.9 70.3,74.6 70.8,74.7C71.3,74.7 71.8,74.3 72.3,74.3C72.8,74.2 73.3,74.4 73.8,74.5C74.3,74.6 74.8,74.7 75.3,74.7C75.8,74.7 76.3,74.5 76.8,74.5C77.3,74.5 77.8,74.7 78.3,74.7C78.8,74.6 79.3,74.2 79.8,74.1C80.3,74.1 80.8,74.5 81.3,74.5C81.8,74.5 82.3,74.1 82.8,74.2C83.3,74.2 83.8,74.6 84.3,74.6C84.8,74.7 85.3,74.7 85.8,74.6C86.3,74.4 86.8,73.9 87.3,73.8C87.8,73.7 88.3,73.8 88.8,73.8C89.3,73.8 89.8,73.7 90.3,73.9C90.8,74.0 91.3,74.6 91.8,74.6C92.3,74.7 92.8,74.1 93.3,74.1C93.8,74.0 94.3,74.3 94.8,74.3C95.3,74.2 95.8,73.9 96.3,73.9C96.8,73.9 97.3,74.1 97.8,74.1C98.3,74.1 98.8,74.0 99.3,74.0C99.8,74.0 100.3,73.9 100.8,73.9C101.3,74.0 101.8,74.1 102.3,74.2C102.8,74.2 103.3,74.1 103.8,74.1C104.3,74.2 104.8,74.4 105.3,74.5C105.8,74.5 106.3,74.2 106.8,74.2C107.3,74.2 107.8,74.4 108.3,74.5C108.8,74.5 109.3,74.4 109.8,74.4C110.3,74.4 110.8,74.5 111.3,74.5C111.8,74.5 112.3,74.3 112.8,74.2C113.3,74.0 113.8,73.6 114.3,73.6C114.8,73.7 115.3,74.2 115.8,74.3C116.3,74.5 116.8,74.4 117.3,74.4C117.8,74.4 118.3,74.4 118.8,74.3C119.3,74.3 119.8,74.0 120.3,73.9C120.8,73.9 121.3,74.1 121.8,73.9C122.3,73.8 122.8,73.3 123.3,73.3C123.8,73.2 124.3,73.7 124.8,73.7C125.3,73.7 125.8,73.5 126.3,73.4C126.8,73.3 127.3,73.2 127.8,73.2C128.3,73.1 128.8,73.0 129.3,73.1C129.8,73.3 130.3,73.9 130.8,74.1C131.3,74.3 131.8,74.4 132.3,74.3C132.8,74.2 133.3,73.4 133.8,73.4C134.3,73.4 134.8,74.1 135.3,74.1C135.8,74.2 136.3,73.8 136.8,73.7C137.3,73.6 137.8,73.5 138.3,73.5C138.8,73.4 139.3,73.5 139.8,73.6C140.3,73.7 140.8,74.0 141.3,74.1C141.8,74.1 142.3,74.3 142.8,74.1C143.3,74.0 143.8,73.4 144.3,73.3C144.8,73.3 145.3,73.9 145.8,73.9C146.3,73.9 146.8,73.3 147.3,73.3C147.8,73.3 148.3,73.9 148.8,73.9C149.3,74.0 149.8,73.5 150.3,73.5C150.8,73.6 151.3,74.0 151.8,74.1C152.3,74.2 152.8,74.2 153.3,74.2C153.8,74.1 154.3,73.7 154.8,73.7C155.3,73.7 155.8,74.2 156.3,74.2C156.8,74.1 157.3,73.6 157.8,73.5C158.3,73.3 158.8,73.2 159.3,73.2C159.8,73.3 160.3,73.8 160.8,73.7C161.3,73.7 161.8,73.2 162.3,73.2C162.8,73.1 163.3,73.3 163.8,73.3C164.3,73.4 164.8,73.4 165.3,73.5C165.8,73.6 166.3,73.8 166.8,73.7C167.3,73.7 167.8,73.3 168.3,73.2C168.8,73.1 169.3,73.0 169.8,73.1C170.3,73.2 170.8,73.9 171.3,73.9C171.8,74.0 172.3,73.4 172.8,73.4C173.3,73.4 173.8,73.9 174.3,74.0C174.8,74.1 175.3,74.1 175.8,73.8C176.3,73.6 176.8,73.1 177.3,72.5C177.8,72.0 178.3,71.0 178.8,70.5C179.3,70.0 179.8,69.4 180.3,69.6C180.8,69.7 181.3,70.9 181.8,71.3C182.3,71.8 182.8,72.0 183.3,72.1C183.8,72.2 184.3,71.9 184.8,72.0C185.3,72.2 185.8,72.5 186.3,72.9C186.8,73.3 187.3,74.1 187.8,74.2C188.3,74.3 188.8,73.6 189.3,73.4C189.8,73.3 190.3,73.2 190.8,73.3C191.3,73.3 191.8,73.9 192.3,73.8C192.8,73.8 193.3,73.0 193.8,72.9C194.3,72.7 194.8,72.7 195.3,73.0C195.8,73.2 196.3,74.3 196.8,74.3C197.3,74.4 197.8,73.6 198.3,73.4C198.8,73.3 199.3,73.6 199.8,73.4C200.3,73.3 200.8,72.4 201.3,72.4C201.8,72.3 202.3,73.0 202.8,73.2C203.3,73.3 203.8,73.6 204.3,73.5C204.8,73.3 205.3,72.3 205.8,72.3C206.3,72.4 206.8,73.3 207.3,73.5C207.8,73.7 208.3,73.7 208.8,73.5C209.3,73.4 209.8,72.4 210.3,72.4C210.8,72.4 211.3,73.4 211.8,73.5C212.3,73.6 212.8,73.2 213.3,73.2C213.8,73.2 214.3,73.6 214.8,73.6C215.3,73.6 215.8,72.9 216.3,72.9C216.8,72.9 217.3,73.5 217.8,73.6C218.3,73.8 217.9,73.7 219.3,73.7C220.7,73.7 224.0,73.6 226.1,73.6C228.3,73.6 230.7,73.6 232.3,73.6C233.8,73.7 234.6,74.2 235.3,74.0C236.0,73.9 236.0,75.4 236.3,73.0C236.7,70.6 237.2,64.0 237.6,59.7C238.0,55.5 238.4,47.7 238.8,47.5C239.2,47.3 239.6,55.5 240.0,58.7C240.5,62.0 240.9,64.9 241.5,66.9C242.0,68.9 242.7,69.7 243.5,71.0C244.4,72.2 245.4,74.4 246.6,74.5C247.8,74.6 249.3,72.3 250.7,71.6C252.0,70.9 253.6,70.8 254.7,70.4C255.9,69.9 256.8,68.8 257.8,68.9C258.8,69.0 259.8,70.5 260.9,71.0C262.0,71.4 263.7,72.1 264.6,71.6C265.4,71.1 265.5,67.7 266.0,67.9C266.5,68.2 266.7,72.0 267.4,73.0C268.1,74.0 269.3,74.5 270.1,74.0C270.9,73.6 271.5,70.3 272.1,70.4C272.7,70.4 273.0,74.0 273.5,74.5C274.1,74.9 274.4,76.2 275.2,73.0C276.0,69.9 277.5,60.1 278.2,55.7C279.0,51.2 279.4,48.7 279.9,46.5C280.4,44.2 280.9,42.4 281.3,42.4C281.8,42.4 282.1,44.6 282.5,46.5C282.9,48.3 283.2,50.9 283.8,53.6C284.3,56.3 285.0,60.4 285.8,62.8C286.6,65.2 287.7,67.7 288.5,67.9C289.2,68.1 289.7,66.9 290.5,63.8C291.3,60.8 292.4,52.7 293.2,49.5C293.9,46.4 294.5,44.7 295.2,45.0C295.9,45.4 296.6,48.9 297.3,51.6C297.9,54.2 298.6,58.9 299.3,60.8C299.9,62.6 300.6,64.0 301.1,62.8C301.6,61.6 302.0,53.6 302.4,53.6C302.7,53.6 302.8,61.1 303.4,62.8C304.0,64.5 304.7,63.3 305.8,63.8C306.9,64.3 308.7,65.7 309.9,65.9C311.1,66.0 312.1,66.0 313.0,64.9C313.8,63.7 314.5,58.9 315.0,58.7C315.6,58.6 315.8,62.5 316.5,63.8C317.1,65.2 318.2,66.0 319.1,66.9C320.1,67.7 321.2,67.7 322.2,68.9C323.2,70.1 324.6,73.0 325.3,74.0C325.9,75.1 325.9,78.1 326.3,75.1C326.6,72.0 327.0,62.0 327.3,55.7C327.6,49.4 328.0,39.0 328.3,37.3C328.7,35.6 329.0,43.1 329.3,45.4C329.7,47.8 329.9,49.5 330.4,51.6C330.9,53.6 331.7,55.8 332.4,57.7C333.1,59.6 333.6,60.9 334.4,62.8C335.3,64.7 336.5,67.2 337.5,68.9C338.5,70.6 339.7,72.2 340.6,73.0C341.4,73.9 341.9,74.2 342.6,74.0C343.3,73.9 344.0,72.4 344.7,72.4C345.3,72.4 346.0,74.5 346.7,74.0C347.4,73.6 348.1,69.6 348.8,69.6C349.4,69.5 350.1,73.6 350.8,73.6C351.5,73.7 352.2,71.0 352.8,70.0C353.5,68.9 354.3,66.8 354.9,67.5C355.5,68.2 356.2,73.0 356.5,74.0" fill="none" stroke="#ff0000" stroke-width="2.4" stroke-linejoin="round" stroke-linecap="round"/>
<path d="M31.8,272.0v-4.0M54.4,272.0v-2.2M77.0,272.0v-4.0M99.7,272.0v-2.2M122.3,272.0v-4.0M144.9,272.0v-2.2M167.6,272.0v-4.0M190.2,272.0v-2.2M212.8,272.0v-4.0M235.4,272.0v-2.2M258.1,272.0v-4.0M280.7,272.0v-2.2M303.3,272.0v-4.0M325.9,272.0v-2.2M348.6,272.0v-4.0" stroke="#000" stroke-width="1.3" fill="none"/>
<text x="31.8" y="290.0" font-size="13.8" fill="#000" stroke="#000" stroke-width="0.3" font-weight="bold" text-anchor="middle" textLength="25.8" lengthAdjust="spacingAndGlyphs">4000</text>
<text x="77.0" y="290.0" font-size="13.8" fill="#000" stroke="#000" stroke-width="0.3" font-weight="bold" text-anchor="middle" textLength="25.8" lengthAdjust="spacingAndGlyphs">3500</text>
<text x="122.3" y="290.0" font-size="13.8" fill="#000" stroke="#000" stroke-width="0.3" font-weight="bold" text-anchor="middle" textLength="25.8" lengthAdjust="spacingAndGlyphs">3000</text>
<text x="167.6" y="290.0" font-size="13.8" fill="#000" stroke="#000" stroke-width="0.3" font-weight="bold" text-anchor="middle" textLength="25.8" lengthAdjust="spacingAndGlyphs">2500</text>
<text x="212.8" y="290.0" font-size="13.8" fill="#000" stroke="#000" stroke-width="0.3" font-weight="bold" text-anchor="middle" textLength="25.8" lengthAdjust="spacingAndGlyphs">2000</text>
<text x="258.1" y="290.0" font-size="13.8" fill="#000" stroke="#000" stroke-width="0.3" font-weight="bold" text-anchor="middle" textLength="25.8" lengthAdjust="spacingAndGlyphs">1500</text>
<text x="303.3" y="290.0" font-size="13.8" fill="#000" stroke="#000" stroke-width="0.3" font-weight="bold" text-anchor="middle" textLength="25.8" lengthAdjust="spacingAndGlyphs">1000</text>
<text x="348.6" y="290.0" font-size="13.8" fill="#000" stroke="#000" stroke-width="0.3" font-weight="bold" text-anchor="middle" textLength="19.3" lengthAdjust="spacingAndGlyphs">500</text>
<text x="195.2" y="312.2" font-size="13.8" fill="#000" stroke="#000" stroke-width="0.3" font-weight="bold" text-anchor="middle">Wavenumber (cm<tspan dy="-6.5" font-size="9">-1</tspan><tspan dy="6.5">)</tspan></text>
<text x="20.4" y="139.7" font-size="14" fill="#000" stroke="#000" stroke-width="0.3" font-weight="bold" text-anchor="middle" transform="rotate(-90 20.4 139.7)" textLength="71.3" lengthAdjust="spacingAndGlyphs">Absorbance</text>
<text x="43.8" y="59.7" font-size="12.9" fill="#ff0000" stroke="#ff0000" stroke-width="0.3" font-weight="bold" textLength="129.2" lengthAdjust="spacingAndGlyphs">e- RPET+ Nd<tspan dy="3" font-size="8">2</tspan><tspan dy="-3">O</tspan><tspan dy="3" font-size="8">3</tspan><tspan dy="-3"> 8wt.%</tspan></text>
<text x="46.9" y="112.2" font-size="12.9" fill="#00ee00" stroke="#00ee00" stroke-width="0.3" font-weight="bold" textLength="129.9" lengthAdjust="spacingAndGlyphs">d- RPET+ Nd<tspan dy="3" font-size="8">2</tspan><tspan dy="-3">O</tspan><tspan dy="3" font-size="8">3</tspan><tspan dy="-3"> 4wt.%</tspan></text>
<text x="40.2" y="160.3" font-size="12.9" fill="#0a00f0" stroke="#0a00f0" stroke-width="0.3" font-weight="bold" textLength="129.3" lengthAdjust="spacingAndGlyphs">c- RPET+ Nd<tspan dy="3" font-size="8">2</tspan><tspan dy="-3">O</tspan><tspan dy="3" font-size="8">3</tspan><tspan dy="-3"> 2wt.%</tspan></text>
<text x="44.0" y="201.7" font-size="12.9" fill="#ff00dc" stroke="#ff00dc" stroke-width="0.3" font-weight="bold" textLength="131.4" lengthAdjust="spacingAndGlyphs">b- RPET+ Nd<tspan dy="3" font-size="8">2</tspan><tspan dy="-3">O</tspan><tspan dy="3" font-size="8">3</tspan><tspan dy="-3"> 1wt.%</tspan></text>
<rect x="40.6" y="8.2" width="44.5" height="263.8" fill="#ff0000" fill-opacity="0.25"/>
<rect x="31.8" y="8.2" width="325.8" height="263.8" fill="none" stroke="#000" stroke-width="1.9"/>
<text x="64.3" y="40.2" font-size="36" fill="#000" stroke="#000" stroke-width="0.55" font-weight="normal" text-anchor="middle" textLength="40.2" lengthAdjust="spacingAndGlyphs">(a)</text>
<text x="47.8" y="254.4" font-size="12.9" fill="#2a0000" stroke="#2a0000" stroke-width="0.3" font-weight="bold" textLength="37.6" lengthAdjust="spacingAndGlyphs">a- PET</text>
<text x="239.4" y="28.8" font-size="13.3" fill="#000" stroke="#000" stroke-width="0.3" font-weight="bold" text-anchor="middle">C</text>
<path d="M238.5,30.0V43.4" stroke="#000" stroke-width="1.0" fill="none"/>
<path d="M235.7,42.9L241.3,42.9L238.5,45.9Z" fill="#000"/>
<text x="282.9" y="20.0" font-size="13.3" fill="#000" stroke="#000" stroke-width="0.3" font-weight="bold" text-anchor="middle">F</text>
<path d="M281.5,24.4V36.5" stroke="#000" stroke-width="1.0" fill="none"/>
<path d="M278.7,36.0L284.3,36.0L281.5,39.0Z" fill="#000"/>
<text x="298.7" y="22.7" font-size="13.3" fill="#000" stroke="#000" stroke-width="0.3" font-weight="bold" text-anchor="middle">G</text>
<path d="M296.8,26.9V39.8" stroke="#000" stroke-width="1.0" fill="none"/>
<path d="M294.0,39.3L299.6,39.3L296.8,42.3Z" fill="#000"/>
<text x="330.5" y="18.4" font-size="13.3" fill="#000" stroke="#000" stroke-width="0.3" font-weight="bold" text-anchor="middle">I</text>
<path d="M328.1,20.0V32.9" stroke="#000" stroke-width="1.0" fill="none"/>
<path d="M325.3,32.4L330.9,32.4L328.1,35.4Z" fill="#000"/>
<text x="346.2" y="50.8" font-size="13.3" fill="#000" stroke="#000" stroke-width="0.3" font-weight="bold" text-anchor="middle">K</text>
<path d="M342.8,54.1V67.5" stroke="#000" stroke-width="1.0" fill="none"/>
<path d="M340.0,67.0L345.6,67.0L342.8,70.0Z" fill="#000"/>
<text x="305.7" y="78.2" font-size="13.3" fill="#000" stroke="#000" stroke-width="0.3" font-weight="bold" text-anchor="middle">H</text>
<path d="M302.0,82.4V95.3" stroke="#000" stroke-width="1.0" fill="none"/>
<path d="M299.2,94.8L304.8,94.8L302.0,97.8Z" fill="#000"/>
<text x="352.8" y="97.6" font-size="13.3" fill="#000" stroke="#000" stroke-width="0.3" font-weight="bold" text-anchor="middle">M</text>
<path d="M353.9,100.4V113.3" stroke="#000" stroke-width="1.0" fill="none"/>
<path d="M351.1,112.8L356.7,112.8L353.9,115.8Z" fill="#000"/>
<text x="345.3" y="103.5" font-size="13.3" fill="#000" stroke="#000" stroke-width="0.3" font-weight="bold" text-anchor="middle">L</text>
<path d="M347.5,107.4V120.2" stroke="#000" stroke-width="1.0" fill="none"/>
<path d="M344.7,119.7L350.3,119.7L347.5,122.7Z" fill="#000"/>
<text x="258.0" y="148.4" font-size="13.3" fill="#000" stroke="#000" stroke-width="0.3" font-weight="bold" text-anchor="middle">D</text>
<path d="M256.8,150.0V163.1" stroke="#000" stroke-width="1.0" fill="none"/>
<path d="M254.0,162.6L259.6,162.6L256.8,165.6Z" fill="#000"/>
<text x="180.0" y="151.0" font-size="13.3" fill="#000" stroke="#000" stroke-width="0.3" font-weight="bold" text-anchor="middle">B</text>
<path d="M178.3,152.0V166.2" stroke="#000" stroke-width="1.0" fill="none"/>
<path d="M175.5,165.7L181.1,165.7L178.3,168.7Z" fill="#000"/>
<text x="266.9" y="206.7" font-size="13.3" fill="#000" stroke="#000" stroke-width="0.3" font-weight="bold" text-anchor="middle">E</text>
<path d="M266.0,210.2V223.3" stroke="#000" stroke-width="1.0" fill="none"/>
<path d="M263.2,222.8L268.8,222.8L266.0,225.8Z" fill="#000"/>
<text x="315.3" y="191.8" font-size="13.3" fill="#000" stroke="#000" stroke-width="0.3" font-weight="bold" text-anchor="middle">J</text>
<path d="M314.4,195.4V209.0" stroke="#000" stroke-width="1.0" fill="none"/>
<path d="M311.6,208.5L317.2,208.5L314.4,211.5Z" fill="#000"/>
<text x="61.2" y="213.2" font-size="13.3" fill="#000" stroke="#000" stroke-width="0.3" font-weight="bold" text-anchor="middle">A</text>
<path d="M60.9,214.7V228.9" stroke="#000" stroke-width="1.0" fill="none"/>
<path d="M58.1,228.4L63.7,228.4L60.9,231.4Z" fill="#000"/>
<rect x="23.0" y="321.6" width="328.5" height="265.2" fill="#ffbfbf"/>
<path d="M25.5,579.1C26.6,578.4 29.1,577.4 31.2,576.1C33.2,574.8 33.8,573.0 35.4,572.9C36.9,572.7 37.1,574.2 38.6,575.3C40.2,576.5 41.1,579.3 42.8,578.6C44.5,577.8 45.1,574.1 46.8,571.6C48.5,569.2 49.4,566.9 51.0,566.7C52.7,566.4 53.2,568.9 54.7,570.4C56.3,571.8 56.9,573.4 58.5,573.6C60.0,573.8 60.7,571.0 62.2,571.1C63.7,571.2 64.1,572.6 65.9,574.1C67.7,575.6 69.1,578.6 70.9,578.6C72.7,578.6 73.1,576.6 74.6,574.1C76.1,571.6 76.8,568.3 78.3,566.7C79.9,565.0 80.5,566.2 82.1,566.2C83.6,566.2 84.0,566.4 85.8,566.7C87.6,566.9 89.0,566.4 90.7,567.2C92.4,567.9 92.4,568.0 94.0,570.4C95.5,572.7 96.5,578.3 98.2,578.6C99.8,578.8 100.4,574.8 101.9,571.6C103.4,568.4 104.2,565.5 105.6,562.9C107.1,560.4 107.5,558.5 108.9,559.2C110.2,559.9 110.9,565.6 112.3,566.2C113.7,566.7 114.1,564.0 115.6,561.7C117.0,559.3 118.0,556.3 119.3,554.7C120.6,553.2 120.7,553.3 121.8,554.2C122.8,555.2 123.1,555.9 124.2,559.2C125.4,562.5 125.9,566.9 127.2,570.4C128.5,573.9 129.0,575.8 130.4,576.1C131.9,576.3 132.6,573.6 134.2,571.6C135.7,569.7 136.4,568.1 137.9,566.7C139.4,565.2 139.9,564.7 141.6,564.7C143.3,564.7 144.3,566.7 146.1,566.7C147.9,566.7 148.7,565.7 150.3,564.7C151.9,563.6 152.5,561.9 154.0,561.7C155.6,561.5 156.2,562.6 157.8,563.7C159.3,564.7 159.7,566.3 161.5,566.7C163.3,567.0 164.3,565.9 166.4,565.4C168.6,564.9 169.8,563.7 171.9,564.2C174.0,564.7 174.7,566.1 176.4,567.9C178.1,569.7 178.3,570.8 180.1,572.9C181.9,574.9 183.3,577.6 185.1,577.8C186.8,578.1 187.2,576.9 188.7,574.1C190.3,571.3 190.9,567.7 192.4,564.2C194.0,560.7 194.9,558.7 196.2,557.2C197.5,555.8 197.5,555.3 198.7,557.2C199.8,559.2 200.6,562.9 201.9,566.7C203.2,570.4 203.6,572.9 204.9,575.3C206.1,577.8 206.6,578.3 207.8,578.6C209.1,578.8 209.7,577.8 211.1,576.6C212.4,575.4 213.0,573.8 214.3,572.9C215.6,571.9 215.9,573.0 217.3,572.1C218.7,571.2 219.5,569.9 221.0,568.6C222.5,567.4 223.3,565.8 224.7,566.2C226.1,566.5 226.4,568.1 227.7,570.4C229.0,572.6 229.9,575.4 230.9,577.1C231.9,578.8 231.6,579.4 232.7,578.6C233.7,577.7 234.4,575.3 235.9,572.9C237.3,570.4 237.9,567.9 239.6,566.7C241.3,565.4 242.5,565.4 244.1,566.7C245.6,567.9 245.7,570.4 247.1,572.9C248.4,575.3 249.5,578.1 250.8,578.6C252.1,579.1 252.0,577.8 253.3,575.3C254.5,572.9 255.3,570.4 257.0,566.7C258.7,562.9 259.7,559.7 261.4,557.2C263.2,554.8 264.0,555.6 265.7,554.7C267.3,553.9 268.0,552.6 269.4,553.0C270.8,553.4 271.1,555.4 272.4,556.7C273.6,558.0 274.2,559.8 275.6,559.2C277.0,558.6 277.8,557.1 279.3,553.7C280.9,550.4 281.5,546.6 283.0,543.1C284.6,539.6 285.4,537.4 286.8,536.9C288.1,536.4 288.5,538.8 289.7,540.6C291.0,542.4 291.8,544.0 293.0,545.6C294.1,547.1 294.3,548.0 295.4,548.0C296.6,548.0 297.4,546.3 298.7,545.6C300.0,544.8 300.3,543.8 301.7,544.3C303.0,544.8 303.8,546.5 305.4,548.0C306.9,549.6 307.6,550.7 309.1,551.8C310.6,552.8 311.5,554.0 312.8,553.0C314.1,552.0 314.0,549.9 315.3,546.8C316.6,543.7 317.5,540.4 319.0,538.1C320.6,535.8 321.3,535.1 322.8,535.6C324.2,536.1 324.7,539.2 326.0,540.6C327.3,542.0 327.6,542.0 329.0,542.3C330.3,542.7 331.4,542.5 332.7,542.3C334.0,542.1 333.9,540.8 335.2,541.3C336.4,541.9 337.5,544.4 338.9,545.1C340.3,545.7 340.7,544.7 341.9,544.3C343.0,544.0 344.0,543.5 344.6,543.3" fill="none" stroke="#32000a" stroke-width="2.1" stroke-linejoin="round" stroke-linecap="round"/>
<path d="M25.5,554.2C26.9,553.8 30.4,553.5 32.4,552.3C34.5,551.0 34.1,549.4 35.4,548.0C36.7,546.7 37.1,545.6 38.6,545.6C40.2,545.6 41.0,548.6 42.8,548.0C44.6,547.5 45.6,544.8 47.3,543.1C49.0,541.4 49.5,539.7 51.0,539.8C52.6,540.0 53.1,542.0 54.7,543.8C56.4,545.7 57.4,548.9 59.2,548.8C61.0,548.6 61.9,544.7 63.4,543.1C65.0,541.5 65.1,540.6 66.7,541.1C68.2,541.6 69.3,544.0 70.9,545.6C72.4,547.1 72.6,549.6 74.1,548.8C75.6,548.0 76.7,544.4 78.3,541.8C80.0,539.3 80.4,537.4 82.1,536.4C83.7,535.3 85.0,536.7 86.5,536.9C88.1,537.1 88.0,538.0 89.5,537.4C91.0,536.8 92.4,533.9 94.0,533.9C95.5,533.9 95.7,535.8 96.9,537.4C98.2,538.9 98.4,541.7 99.9,541.3C101.5,541.0 102.5,537.7 104.4,535.6C106.2,533.6 107.3,532.7 108.9,531.4C110.4,530.1 110.4,529.4 111.8,529.4C113.2,529.4 114.0,530.9 115.6,531.4C117.1,531.9 117.7,533.1 119.3,531.9C120.8,530.7 121.6,528.0 123.0,525.7C124.4,523.4 125.2,522.0 126.2,520.7C127.3,519.5 127.1,518.2 128.0,519.5C128.8,520.8 129.4,524.1 130.4,526.9C131.5,529.8 131.8,532.9 132.9,533.1C134.1,533.4 134.9,530.1 136.2,528.2C137.4,526.3 137.8,524.8 139.1,524.0C140.5,523.1 141.3,524.3 142.9,524.0C144.4,523.7 145.2,523.8 146.6,522.5C148.0,521.1 148.4,518.9 149.6,517.5C150.7,516.1 150.9,515.1 152.0,515.8C153.2,516.4 154.2,519.6 155.3,520.7C156.3,521.9 155.7,522.7 157.0,521.5C158.3,520.3 159.8,517.1 161.5,515.0C163.2,513.0 163.7,512.4 165.2,511.6C166.7,510.7 167.4,510.6 168.9,510.8C170.5,511.0 171.0,512.3 172.6,512.5C174.3,512.8 175.3,513.4 176.9,512.1C178.4,510.7 178.7,508.4 180.1,505.8C181.5,503.3 182.3,501.0 183.8,499.6C185.4,498.3 185.9,499.9 187.5,499.1C189.2,498.4 190.4,496.1 191.9,495.9C193.5,495.8 193.8,498.8 194.9,498.4C196.1,498.0 196.4,494.2 197.4,494.2C198.4,494.2 198.8,495.2 199.9,498.4C201.0,501.6 201.6,507.8 202.9,509.6C204.2,511.4 204.9,507.9 206.1,507.1C207.3,506.3 207.3,507.6 208.6,505.8C209.9,504.0 211.0,500.3 212.3,498.4C213.6,496.5 213.8,496.7 214.8,496.7C215.8,496.7 216.0,499.8 217.3,498.4C218.5,497.0 219.6,491.6 221.0,489.7C222.4,487.8 222.9,489.0 224.2,489.2C225.5,489.5 226.1,490.7 227.2,491.0C228.3,491.2 228.5,490.2 229.7,490.2C230.8,490.2 231.4,491.7 232.7,491.0C233.9,490.2 234.7,486.5 235.9,486.7C237.1,487.0 237.2,489.3 238.4,492.2C239.5,495.1 240.3,499.4 241.6,500.9C242.9,502.3 243.4,498.6 244.6,499.1C245.7,499.7 245.9,500.4 247.1,503.4C248.2,506.3 248.7,510.0 250.0,513.3C251.3,516.6 251.8,517.7 253.3,519.5C254.7,521.3 255.7,522.6 257.0,522.0C258.3,521.4 258.5,518.3 259.5,516.5C260.4,514.7 260.4,512.9 261.4,513.3C262.5,513.7 263.0,516.5 264.4,518.3C265.8,520.1 266.6,520.7 268.1,522.0C269.7,523.3 270.5,525.0 271.9,524.5C273.3,523.9 273.6,521.0 274.8,519.5C276.1,518.0 276.7,517.4 278.1,517.0C279.4,516.6 280.0,516.2 281.3,517.5C282.6,518.8 283.0,521.0 284.3,523.2C285.5,525.4 286.0,525.1 287.3,528.2C288.5,531.3 289.0,534.0 290.5,538.1C291.9,542.2 292.8,545.3 294.2,548.0C295.6,550.8 296.1,552.0 297.2,551.3C298.3,550.5 298.6,547.2 299.7,544.3C300.7,541.4 301.2,538.1 302.2,537.4C303.1,536.6 303.2,538.4 304.1,540.6C305.1,542.8 305.5,545.6 306.6,548.0C307.7,550.5 308.5,551.0 309.6,552.3C310.7,553.5 311.1,555.1 312.1,554.2C313.1,553.4 313.4,551.4 314.6,548.0C315.7,544.7 316.5,541.0 317.8,538.1C319.1,535.2 319.7,534.9 321.0,533.9C322.3,532.9 322.9,532.8 324.0,533.1C325.1,533.5 325.3,534.6 326.5,535.6C327.6,536.7 328.2,538.1 329.5,538.1C330.7,538.1 331.2,536.4 332.7,535.6C334.1,534.9 335.6,534.6 336.4,534.4" fill="none" stroke="#ff00be" stroke-width="2.1" stroke-linejoin="round" stroke-linecap="round"/>
<path d="M25.5,496.4C26.6,496.1 29.3,495.3 31.2,494.7C33.0,494.1 33.2,494.2 34.4,493.4C35.6,492.7 35.7,491.1 36.9,491.0C38.0,490.8 38.7,492.0 39.9,492.7C41.0,493.4 41.1,495.1 42.3,494.2C43.6,493.3 44.4,490.9 46.1,488.5C47.7,486.0 48.6,482.3 50.3,482.3C52.0,482.3 52.6,485.5 54.3,488.5C55.9,491.4 56.8,496.2 58.5,496.4C60.1,496.7 60.7,492.4 62.2,489.7C63.7,487.0 64.6,485.0 65.9,483.5C67.2,482.0 67.2,481.6 68.4,482.3C69.6,482.9 70.4,485.5 71.6,486.7C72.8,488.0 72.7,489.1 74.1,488.5C75.5,487.8 76.7,485.2 78.3,483.5C80.0,481.8 80.5,481.6 82.1,480.3C83.6,479.0 84.2,478.2 85.8,477.3C87.3,476.4 88.0,475.3 89.5,476.1C91.0,476.8 91.7,478.5 93.2,481.0C94.8,483.6 95.6,486.7 96.9,488.5C98.3,490.3 98.6,491.0 99.9,489.7C101.2,488.4 101.5,485.4 103.1,482.3C104.8,479.1 106.3,474.9 108.1,474.3C109.9,473.7 110.3,477.2 111.8,479.3C113.4,481.3 114.0,483.9 115.6,484.3C117.1,484.6 117.5,482.6 119.3,481.0C121.1,479.5 122.4,476.3 124.2,476.8C126.0,477.3 126.3,480.6 128.0,483.5C129.6,486.4 130.5,490.4 132.2,491.0C133.9,491.5 134.2,488.7 136.2,486.0C138.1,483.3 139.7,478.7 141.6,477.8C143.5,476.9 144.1,480.8 145.3,481.8C146.6,482.7 146.5,483.4 147.8,482.3C149.1,481.1 150.0,477.9 151.5,476.1C153.1,474.3 153.7,473.6 155.3,473.6C156.8,473.6 157.6,475.0 159.0,476.1C160.4,477.1 160.4,478.8 162.0,478.5C163.5,478.3 164.5,476.1 166.4,474.8C168.4,473.5 169.6,472.7 171.4,472.3C173.2,471.9 173.6,472.6 175.1,472.8C176.7,473.1 177.3,472.8 178.8,473.6C180.4,474.4 180.8,474.9 182.6,476.8C184.4,478.7 185.8,483.4 187.5,482.8C189.3,482.1 189.7,477.5 191.2,473.6C192.7,469.6 193.4,467.2 194.9,463.7C196.5,460.1 197.4,456.7 198.7,456.2C199.9,455.7 200.0,458.3 201.1,461.2C202.3,464.0 203.0,467.3 204.4,469.9C205.7,472.4 206.7,472.7 207.8,473.6C209.0,474.5 208.6,475.1 209.8,474.3C211.0,473.6 212.3,470.9 213.5,469.9C214.8,468.8 214.7,470.4 216.0,469.4C217.3,468.3 218.2,466.9 219.7,464.9C221.3,462.8 222.0,461.0 223.5,459.4C224.9,457.9 225.4,457.2 226.7,457.4C228.0,457.7 228.4,459.3 229.7,460.4C230.9,461.6 231.4,463.1 232.7,462.9C233.9,462.7 234.4,461.1 235.9,459.4C237.3,457.8 238.2,455.4 239.6,455.0C241.0,454.6 241.5,455.4 242.6,457.4C243.7,459.5 244.0,460.3 245.1,464.9C246.1,469.5 246.4,474.4 247.5,479.8C248.7,485.2 249.4,488.3 250.8,491.0C252.1,493.6 252.6,492.7 254.0,492.7C255.4,492.7 256.1,492.1 257.5,491.0C258.9,489.8 259.4,487.1 260.7,487.2C262.0,487.4 262.7,490.7 263.9,491.7C265.1,492.7 265.3,492.9 266.4,492.2C267.5,491.5 268.3,488.2 269.4,488.5C270.5,488.7 270.9,491.9 271.9,493.4C272.8,495.0 272.7,496.7 273.9,495.9C275.0,495.1 275.7,493.3 277.3,489.7C279.0,486.1 280.1,482.2 281.8,478.5C283.5,474.8 284.1,472.4 285.5,471.8C287.0,471.3 287.4,473.9 288.7,476.1C290.1,478.2 290.8,480.0 292.2,482.3C293.6,484.6 294.3,485.2 295.4,487.2C296.6,489.3 296.9,491.4 297.9,492.2C299.0,493.0 299.2,490.4 300.4,491.0C301.6,491.5 302.4,493.5 303.6,494.7C304.9,495.8 305.2,496.4 306.6,496.4C308.0,496.4 308.9,495.8 310.3,494.7C311.8,493.5 312.2,493.3 313.6,491.0C315.0,488.6 315.5,486.1 317.0,483.5C318.6,480.9 319.6,479.7 321.0,478.5C322.5,477.4 322.6,477.0 324.0,477.8C325.4,478.6 326.2,480.6 327.7,482.3C329.3,484.0 329.9,485.1 331.4,486.0C333.0,486.9 333.7,487.0 335.2,486.7C336.6,486.5 337.1,485.3 338.4,484.7C339.7,484.2 340.1,485.0 341.4,484.3C342.6,483.5 343.9,481.7 344.6,481.0" fill="none" stroke="#3200c8" stroke-width="2.1" stroke-linejoin="round" stroke-linecap="round"/>
<path d="M25.5,485.5C26.6,485.1 29.2,484.4 31.2,483.5C33.1,482.6 33.5,481.9 34.9,481.0C36.3,480.2 36.6,479.4 37.9,479.3C39.2,479.1 39.8,479.8 41.1,480.3C42.4,480.8 42.8,482.5 44.1,481.8C45.4,481.1 45.9,478.8 47.3,476.8C48.7,474.9 49.5,472.7 51.0,472.3C52.6,471.9 53.2,473.0 54.7,474.8C56.3,476.6 56.9,480.8 58.5,481.0C60.0,481.3 60.8,477.4 62.2,476.1C63.6,474.7 63.9,474.6 65.2,474.3C66.5,474.1 67.1,474.7 68.4,474.8C69.7,474.9 70.2,474.2 71.4,474.8C72.6,475.4 72.9,479.1 74.1,477.8C75.3,476.5 75.7,472.6 77.1,468.6C78.5,464.7 79.4,461.9 80.8,458.7C82.2,455.5 82.8,454.4 84.0,453.0C85.3,451.6 85.6,451.1 87.0,452.0C88.4,452.9 89.2,455.3 90.7,457.4C92.3,459.6 92.9,460.6 94.5,462.4C96.0,464.2 96.9,465.4 98.2,466.1C99.5,466.9 99.4,467.7 100.7,466.1C101.9,464.6 103.1,460.6 104.4,458.7C105.7,456.8 105.6,456.8 106.9,456.9C108.2,457.1 109.1,459.3 110.6,459.4C112.1,459.5 112.8,459.1 114.3,457.4C115.9,455.8 116.6,454.3 118.0,451.2C119.5,448.2 119.7,444.1 121.3,442.9C122.8,441.6 123.8,444.3 125.5,445.3C127.1,446.4 127.9,446.5 129.2,447.8C130.5,449.1 130.7,452.1 131.7,451.5C132.7,451.0 133.0,447.5 134.2,445.3C135.3,443.2 135.9,441.1 137.2,441.1C138.4,441.1 138.9,443.4 140.4,445.3C141.8,447.2 142.8,449.3 144.1,450.3C145.4,451.3 145.3,452.1 146.6,450.3C147.9,448.5 148.8,445.7 150.3,441.6C151.8,437.5 152.2,433.4 154.0,430.4C155.8,427.5 157.2,428.2 159.0,427.2C160.8,426.2 161.2,425.6 162.7,425.5C164.3,425.4 164.6,426.9 166.4,426.7C168.2,426.6 169.6,424.5 171.4,424.7C173.2,425.0 173.6,426.1 175.1,428.0C176.7,429.8 177.3,433.2 178.8,433.7C180.4,434.2 181.0,432.7 182.6,430.4C184.1,428.2 185.2,425.1 186.3,423.0C187.4,421.0 187.1,422.1 188.0,420.5C188.8,419.0 189.3,416.4 190.5,415.6C191.6,414.7 192.5,417.6 193.7,416.3C194.9,415.0 195.0,412.1 196.2,409.4C197.3,406.6 198.1,404.1 199.4,403.1C200.7,402.2 201.0,404.9 202.4,404.9C203.8,404.9 204.6,402.3 206.1,403.1C207.6,404.0 208.4,408.2 209.8,408.9C211.2,409.5 211.5,407.0 212.8,406.4C214.1,405.7 214.7,407.3 216.0,405.6C217.4,403.9 218.0,400.5 219.3,398.2C220.5,395.9 221.0,394.7 222.2,394.5C223.5,394.2 223.9,395.9 225.2,396.9C226.5,398.0 227.2,398.5 228.4,399.4C229.7,400.3 230.1,401.5 231.4,401.4C232.7,401.3 233.4,399.2 234.6,398.9C235.9,398.6 236.3,399.9 237.6,399.9C238.9,399.9 239.5,400.1 240.8,398.9C242.2,397.8 243.0,395.6 244.1,394.5C245.1,393.3 244.9,392.4 245.8,393.2C246.7,394.0 247.3,394.1 248.3,398.2C249.3,402.3 249.7,407.2 250.8,413.1C251.8,419.0 252.0,421.9 253.3,426.7C254.5,431.6 255.7,435.1 257.0,436.7C258.3,438.2 258.4,435.1 259.5,434.2C260.5,433.2 260.9,431.2 261.9,432.2C263.0,433.2 263.1,435.6 264.4,439.1C265.7,442.6 266.6,444.8 268.1,449.1C269.7,453.4 270.5,456.6 271.9,460.0C273.3,463.4 273.6,464.4 274.8,465.4C276.1,466.4 276.9,464.5 278.1,464.9C279.3,465.3 279.4,467.5 280.6,467.4C281.7,467.3 282.5,465.2 283.8,464.4C285.1,463.6 285.4,462.3 286.8,463.7C288.1,465.0 288.9,468.0 290.5,471.1C292.0,474.2 292.7,476.2 294.2,478.5C295.7,480.9 296.5,482.8 297.9,482.3C299.4,481.8 300.0,477.6 301.2,476.1C302.3,474.5 302.5,473.8 303.6,474.8C304.8,475.8 305.2,479.0 306.6,481.0C308.0,483.1 308.9,484.2 310.3,484.7C311.8,485.3 312.0,485.8 313.6,483.5C315.1,481.2 316.1,476.8 317.8,473.6C319.4,470.3 320.1,468.9 321.5,467.9C322.9,466.8 323.2,467.8 324.5,468.6C325.8,469.4 326.3,470.8 327.7,471.8C329.2,472.9 329.9,473.1 331.4,473.6C333.0,474.1 333.6,474.5 335.2,474.3C336.7,474.2 337.5,474.3 338.9,472.8C340.3,471.4 340.7,468.8 341.9,467.4C343.0,466.0 344.0,466.4 344.6,466.1" fill="none" stroke="#46b900" stroke-width="2.1" stroke-linejoin="round" stroke-linecap="round"/>
<path d="M25.5,425.2C26.6,424.8 29.1,423.7 31.2,423.0C33.2,422.3 33.8,421.6 35.4,421.8C36.9,421.9 37.2,423.0 38.6,423.7C40.1,424.5 40.8,426.4 42.3,425.5C43.9,424.6 44.3,422.1 46.1,419.3C47.9,416.5 49.2,412.6 51.0,411.8C52.8,411.1 53.2,413.9 54.7,415.6C56.3,417.2 56.9,419.8 58.5,419.8C60.0,419.8 60.7,417.4 62.2,415.6C63.7,413.8 64.4,411.8 65.9,411.1C67.5,410.4 68.1,411.8 69.6,412.3C71.2,412.9 71.6,415.2 73.4,413.8C75.2,412.4 76.4,408.7 78.3,405.6C80.2,402.6 80.9,400.2 82.5,398.9C84.2,397.6 85.1,398.3 86.5,399.4C88.0,400.6 88.1,402.4 89.5,404.4C90.9,406.3 91.4,407.8 93.2,408.9C95.0,409.9 96.4,410.5 98.2,409.4C100.0,408.2 100.3,405.8 101.9,403.1C103.5,400.5 104.6,398.1 106.1,396.4C107.7,394.8 107.9,396.4 109.4,395.0C110.8,393.5 111.5,391.0 113.1,389.5C114.6,388.0 115.3,388.3 116.8,387.5C118.3,386.7 119.1,385.1 120.5,385.8C122.0,386.4 122.5,388.8 123.7,390.7C125.0,392.7 125.2,393.2 126.7,395.2C128.3,397.3 129.6,400.8 131.2,400.7C132.8,400.5 133.1,397.2 134.7,394.5C136.2,391.7 136.7,388.9 138.6,387.5C140.6,386.1 142.2,388.4 144.1,387.5C146.0,386.6 146.3,384.7 147.8,383.3C149.4,381.9 150.0,381.6 151.5,380.8C153.1,380.0 153.7,380.3 155.3,379.6C156.8,378.8 157.5,377.9 159.0,377.1C160.5,376.3 161.4,375.8 162.7,375.8C164.0,375.8 163.9,377.6 165.2,377.1C166.5,376.6 167.1,375.3 168.9,373.4C170.7,371.4 172.1,368.1 173.9,367.7C175.7,367.2 175.8,371.7 177.6,371.4C179.4,371.0 180.8,366.3 182.6,365.9C184.4,365.6 184.7,369.9 186.3,369.6C187.9,369.4 188.9,366.0 190.5,364.7C192.0,363.4 192.5,366.0 193.7,363.4C194.9,360.9 195.1,355.9 196.2,352.3C197.2,348.7 197.6,346.3 198.7,346.1C199.7,345.8 200.1,348.8 201.1,351.0C202.2,353.2 202.4,356.1 203.6,356.7C204.8,357.4 205.7,354.3 206.8,354.3C208.0,354.3 208.2,357.9 209.3,356.7C210.5,355.6 210.9,351.8 212.3,348.5C213.7,345.3 214.5,344.2 216.0,341.1C217.6,338.0 218.5,335.7 219.7,333.7C221.0,331.6 221.1,331.2 222.2,331.2C223.4,331.2 224.1,332.6 225.2,333.7C226.3,334.7 226.5,335.5 227.7,336.1C228.9,336.8 229.7,337.2 230.9,336.9C232.1,336.5 232.4,335.1 233.4,334.4C234.4,333.7 234.7,332.9 235.9,333.7C237.1,334.4 237.7,335.6 239.1,337.9C240.5,340.2 240.9,342.1 242.6,344.8C244.2,347.5 245.5,348.2 247.1,351.0C248.6,353.8 248.7,355.4 250.0,358.5C251.3,361.5 251.8,363.1 253.3,365.9C254.7,368.7 255.4,370.1 257.0,372.1C258.5,374.2 259.3,373.3 260.7,375.8C262.1,378.4 262.5,380.9 263.9,384.5C265.3,388.1 265.9,389.6 267.4,393.2C268.9,396.8 269.8,399.3 271.4,401.9C272.9,404.5 273.3,403.1 274.8,405.6C276.4,408.2 277.3,412.8 278.8,414.3C280.4,415.9 280.8,413.7 282.3,413.1C283.8,412.5 284.8,411.2 286.3,411.3C287.7,411.5 287.9,412.7 289.2,413.8C290.6,414.9 291.4,416.0 293.0,416.8C294.5,417.6 295.4,417.2 296.7,417.5C298.0,417.9 298.0,419.7 299.2,418.5C300.3,417.4 300.9,412.4 302.2,411.8C303.4,411.2 304.0,414.0 305.4,415.6C306.7,417.1 307.4,417.7 308.6,419.3C309.8,420.8 310.1,421.7 311.1,423.0C312.1,424.3 312.4,426.5 313.6,425.5C314.7,424.5 315.2,420.8 316.5,418.0C317.9,415.3 318.8,414.0 320.3,412.3C321.7,410.7 322.2,409.9 323.5,410.1C324.8,410.3 325.2,411.9 326.5,413.1C327.7,414.2 328.2,415.0 329.5,415.6C330.7,416.1 331.2,416.7 332.7,415.6C334.1,414.4 335.0,411.5 336.4,409.8C337.8,408.2 338.2,408.6 339.4,407.4C340.6,406.1 341.0,404.4 342.1,403.9C343.2,403.4 344.1,404.9 344.6,405.1" fill="none" stroke="#ff0000" stroke-width="2.1" stroke-linejoin="round" stroke-linecap="round"/>
<rect x="23.0" y="321.6" width="328.5" height="265.2" fill="none" stroke="#300000" stroke-width="2.0"/>
<path d="M23.0,586.8v-4.0M55.9,586.8v-2.2M88.7,586.8v-4.0M121.5,586.8v-2.2M154.4,586.8v-4.0M187.2,586.8v-2.2M220.1,586.8v-4.0M252.9,586.8v-2.2M285.8,586.8v-4.0M318.6,586.8v-2.2M351.5,586.8v-4.0" stroke="#000" stroke-width="1.3" fill="none"/>
<text x="23.0" y="601.0" font-size="11.6" fill="#000" stroke="#000" stroke-width="0.3" font-weight="bold" text-anchor="middle" textLength="21.0" lengthAdjust="spacingAndGlyphs">4000</text>
<text x="88.7" y="601.0" font-size="11.6" fill="#000" stroke="#000" stroke-width="0.3" font-weight="bold" text-anchor="middle" textLength="21.0" lengthAdjust="spacingAndGlyphs">3900</text>
<text x="154.4" y="601.0" font-size="11.6" fill="#000" stroke="#000" stroke-width="0.3" font-weight="bold" text-anchor="middle" textLength="21.0" lengthAdjust="spacingAndGlyphs">3800</text>
<text x="220.1" y="601.0" font-size="11.6" fill="#000" stroke="#000" stroke-width="0.3" font-weight="bold" text-anchor="middle" textLength="21.0" lengthAdjust="spacingAndGlyphs">3700</text>
<text x="285.8" y="601.0" font-size="11.6" fill="#000" stroke="#000" stroke-width="0.3" font-weight="bold" text-anchor="middle" textLength="21.0" lengthAdjust="spacingAndGlyphs">3600</text>
<text x="351.5" y="601.0" font-size="11.6" fill="#000" stroke="#000" stroke-width="0.3" font-weight="bold" text-anchor="middle" textLength="21.0" lengthAdjust="spacingAndGlyphs">3500</text>
<text x="183.0" y="621.5" font-size="13.8" fill="#000" stroke="#000" stroke-width="0.3" font-weight="bold" text-anchor="middle">Wavenumber (cm<tspan dy="-6.5" font-size="9">-1</tspan><tspan dy="6.5">)</tspan></text>
<text x="12.2" y="441.4" font-size="14.8" fill="#000" stroke="#000" stroke-width="0.3" font-weight="bold" text-anchor="middle" transform="rotate(-90 12.2 441.4)" textLength="75.7" lengthAdjust="spacingAndGlyphs">Absorbance</text>
<text x="56.6" y="368.2" font-size="31" fill="#000" stroke="#000" stroke-width="0.55" font-weight="normal" text-anchor="middle" textLength="36.0" lengthAdjust="spacingAndGlyphs">(b)</text>
<path d="M390.3,247.1L392.0,247.2L393.6,247.4L395.3,247.9L397.0,247.6L398.6,247.7L400.3,247.8L401.9,248.0L403.6,247.8L405.2,248.2L406.9,248.0L408.6,247.9L410.3,247.9L412.0,247.4L413.8,246.8L415.7,246.7L417.5,246.6L419.3,245.0L420.2,238.0L420.9,204.0L421.6,164.9L422.0,164.9L422.7,204.0L423.4,238.0L424.3,243.4L426.0,244.4L427.6,244.2L429.2,244.9L430.8,244.9L432.4,244.9L433.9,244.6L435.3,245.5L436.8,245.6L438.2,245.4L439.7,245.4L441.1,245.1L442.6,245.1L444.0,245.6L445.5,245.3L446.9,245.5L448.4,245.6L449.8,245.5L451.3,246.0L452.7,246.1L454.2,246.1L455.6,246.6L457.0,246.4L458.5,246.5L459.9,246.5L461.3,246.7L462.8,246.6L464.2,246.6L465.6,247.3L467.0,247.4L468.5,247.3L469.9,247.3L471.3,247.0L472.8,247.0L474.2,247.2L475.6,247.0L477.1,247.8L478.5,247.6L479.9,247.6L481.4,248.1L482.8,247.7L484.2,248.3L485.6,248.3L487.1,247.6L488.5,247.9L489.9,248.6L491.3,248.2L492.8,248.8L494.2,248.3L495.6,248.1L497.0,248.7L498.5,248.9L499.9,248.5L501.3,248.4L502.7,248.7L504.2,249.3L505.6,249.0L507.0,249.2L508.5,248.7L509.9,248.8L511.3,248.7L512.8,248.7L514.2,249.3L515.6,248.8L517.1,249.1L518.5,249.1L520.0,248.8L521.4,249.3L522.8,248.8L524.3,249.3L525.7,248.8L527.1,249.1L528.6,248.9L530.0,249.2L531.4,249.0L532.8,249.6L534.2,249.4L535.6,248.9L537.0,249.4L538.4,248.8L539.8,248.9L541.2,249.3L542.6,249.1L544.1,248.6L545.5,249.4L546.9,248.7L548.3,248.7L549.7,249.1L551.1,248.7L552.5,248.7L553.9,248.4L555.3,248.8L556.7,248.3L558.1,248.7L559.5,248.3L560.9,248.5L562.4,248.2L563.8,248.2L565.2,248.6L566.6,248.1L568.0,248.0L569.4,248.0L570.8,248.2L572.2,247.5L573.6,247.4L575.0,247.6L576.6,247.5L578.2,247.0L579.8,246.1L581.4,245.9L583.0,244.0L584.6,242.7L587.8,237.1L591.0,231.9L593.3,229.9L594.9,229.6L596.5,231.4L598.6,233.9L600.5,232.7L602.1,232.2L603.7,233.8L605.3,238.5L606.9,243.2L608.8,245.6L613.3,246.6L619.7,246.8L624.4,246.2L626.8,245.2L629.2,244.4L630.8,244.8L633.3,244.7L637.4,243.7L641.6,242.3L644.7,240.0L645.7,237.9L647.4,238.5L649.9,236.5L653.0,231.3L655.1,223.0L656.5,208.5L657.6,187.7L658.6,160.7L659.4,140.0L660.3,105.0L661.0,76.0L661.4,66.0L661.9,79.0L662.5,110.0L663.0,140.0L663.7,160.7L664.6,185.6L665.9,203.3L667.3,209.5L668.6,206.4L670.2,193.9L672.3,175.3L674.4,156.6L675.8,146.2L676.7,137.0L677.6,130.4L678.4,127.2L679.2,126.2L680.2,127.0L681.2,130.0L682.0,135.5L682.4,139.5" fill="none" stroke="#850008" stroke-width="1.9" stroke-linejoin="round" stroke-linecap="round"/>
<path d="M660.6,132.0h5.2M661.8,134.4h2.8M663.1,130.2v5.6" stroke="#850008" stroke-width="1.1" fill="none"/>
<rect x="390.4" y="2.9" width="292.2" height="262.3" fill="none" stroke="#000" stroke-width="1.9"/>
<path d="M390.4,265.2v-4.9M390.4,2.9v4.9M410.7,265.2v-3.0M410.7,2.9v3.0M431.0,265.2v-4.9M431.0,2.9v4.9M451.3,265.2v-3.0M451.3,2.9v3.0M471.6,265.2v-4.9M471.6,2.9v4.9M491.9,265.2v-3.0M491.9,2.9v3.0M512.1,265.2v-4.9M512.1,2.9v4.9M532.4,265.2v-3.0M532.4,2.9v3.0M552.7,265.2v-4.9M552.7,2.9v4.9M573.0,265.2v-3.0M573.0,2.9v3.0M593.3,265.2v-4.9M593.3,2.9v4.9M613.6,265.2v-3.0M613.6,2.9v3.0M633.9,265.2v-4.9M633.9,2.9v4.9M654.2,265.2v-3.0M654.2,2.9v3.0M674.5,265.2v-4.9M674.5,2.9v4.9M390.4,16.8h1.7M390.4,30.6h4.6M390.4,44.4h1.7M390.4,58.2h4.6M390.4,72.0h1.7M390.4,85.8h4.6M390.4,99.6h1.7M390.4,113.4h4.6M390.4,127.2h1.7M390.4,141.0h4.6M390.4,154.8h1.7M390.4,168.6h4.6M390.4,182.4h1.7M390.4,196.2h4.6M390.4,210.0h1.7M390.4,223.8h4.6M390.4,237.6h1.7M390.4,251.4h4.6" stroke="#000" stroke-width="1.7" fill="none"/>
<text x="390.4" y="283.2" font-size="12.8" fill="#000" stroke="#000" stroke-width="0.3" font-weight="bold" text-anchor="middle" textLength="23.1" lengthAdjust="spacingAndGlyphs">4000</text>
<text x="431.0" y="283.2" font-size="12.8" fill="#000" stroke="#000" stroke-width="0.3" font-weight="bold" text-anchor="middle" textLength="23.1" lengthAdjust="spacingAndGlyphs">3500</text>
<text x="471.6" y="283.2" font-size="12.8" fill="#000" stroke="#000" stroke-width="0.3" font-weight="bold" text-anchor="middle" textLength="23.1" lengthAdjust="spacingAndGlyphs">3000</text>
<text x="512.1" y="283.2" font-size="12.8" fill="#000" stroke="#000" stroke-width="0.3" font-weight="bold" text-anchor="middle" textLength="23.1" lengthAdjust="spacingAndGlyphs">2500</text>
<text x="552.7" y="283.2" font-size="12.8" fill="#000" stroke="#000" stroke-width="0.3" font-weight="bold" text-anchor="middle" textLength="23.1" lengthAdjust="spacingAndGlyphs">2000</text>
<text x="593.3" y="283.2" font-size="12.8" fill="#000" stroke="#000" stroke-width="0.3" font-weight="bold" text-anchor="middle" textLength="23.1" lengthAdjust="spacingAndGlyphs">1500</text>
<text x="633.9" y="283.2" font-size="12.8" fill="#000" stroke="#000" stroke-width="0.3" font-weight="bold" text-anchor="middle" textLength="23.1" lengthAdjust="spacingAndGlyphs">1000</text>
<text x="674.5" y="283.2" font-size="12.8" fill="#000" stroke="#000" stroke-width="0.3" font-weight="bold" text-anchor="middle" textLength="17.3" lengthAdjust="spacingAndGlyphs">500</text>
<text x="536.7" y="304.7" font-size="14.2" fill="#000" stroke="#000" stroke-width="0.3" font-weight="bold" text-anchor="middle" textLength="105.5" lengthAdjust="spacingAndGlyphs">Wavenumber (cm<tspan dy="-6.5" font-size="9">-1</tspan><tspan dy="6.5">)</tspan></text>
<text x="379.2" y="132.8" font-size="13.5" fill="#000" stroke="#000" stroke-width="0.3" font-weight="bold" text-anchor="middle" transform="rotate(-90 379.2 132.8)" textLength="69.0" lengthAdjust="spacingAndGlyphs">Absorbance</text>
<text x="433.8" y="39.9" font-size="31" fill="#000" stroke="#000" stroke-width="0.55" font-weight="normal" text-anchor="middle" textLength="34.0" lengthAdjust="spacingAndGlyphs">(c)</text>
<text x="528.9" y="23.2" font-size="12" fill="#850008" stroke="#850008" stroke-width="0.3" font-weight="bold" text-anchor="middle">Nd<tspan dy="3" font-size="7.5">2</tspan><tspan dy="-3">O</tspan><tspan dy="3" font-size="7.5">3</tspan></text>
<text x="426.0" y="109.3" font-size="10.8" fill="#850008" stroke="#850008" stroke-width="0.3" font-weight="bold" text-anchor="middle" transform="rotate(-90 426.0 109.3)" textLength="40.2" lengthAdjust="spacingAndGlyphs">Nd-OH</text>
<text x="665.8" y="26.6" font-size="12.6" fill="#850008" stroke="#850008" stroke-width="0.2" font-weight="normal" text-anchor="middle" transform="rotate(-90 665.8 26.6)" textLength="29.6" lengthAdjust="spacingAndGlyphs">Nd-O</text>
<text x="597.0" y="183.0" font-size="11.6" fill="#850008" stroke="#850008" stroke-width="0.3" font-weight="bold" text-anchor="middle" transform="rotate(-90 597.0 183.0)" textLength="36.4" lengthAdjust="spacingAndGlyphs">H-O-H</text>
<text x="621.4" y="190.9" font-size="12.6" fill="#850008" stroke="#850008" stroke-width="0.2" text-anchor="middle" transform="rotate(-90 621.4 190.9)">CO<tspan dy="3" font-size="8">2</tspan></text>
<path d="M421.3,131.8V153.0" stroke="#000" stroke-width="0.9" fill="none"/>
<path d="M419.0,152.5L423.6,152.5L421.3,155.2Z" fill="#000"/>
<path d="M661.7,44.2V57.6" stroke="#000" stroke-width="0.9" fill="none"/>
<path d="M659.4,57.1L664.0,57.1L661.7,59.8Z" fill="#000"/>
<path d="M592.3,205.8V218.1" stroke="#000" stroke-width="0.9" fill="none"/>
<path d="M590.0,217.6L594.6,217.6L592.3,220.3Z" fill="#000"/>
<path d="M613.5,209.4L607.4,221.2" stroke="#000" stroke-width="1.1" fill="none"/>
<path d="M605.3,220.1L609.5,222.3L604.4,227.0Z" fill="#000"/>
<path d="M619.8,207.3L625.1,231.3" stroke="#000" stroke-width="1.1" fill="none"/>
<path d="M622.8,231.8L627.4,230.7L626.5,237.6Z" fill="#000"/>
</svg>
</body></html>
